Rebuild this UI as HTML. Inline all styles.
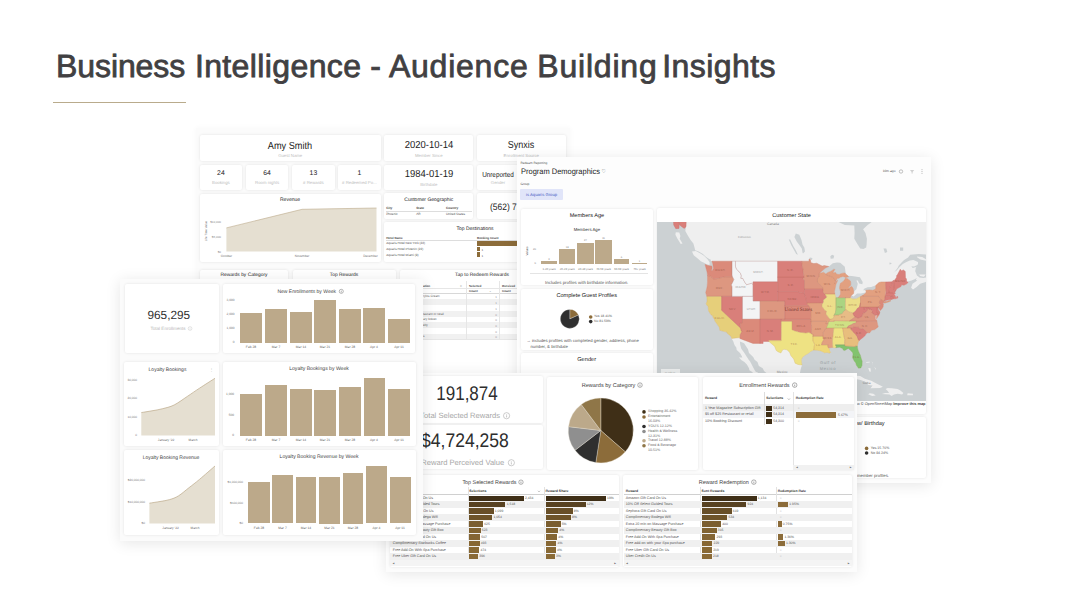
<!DOCTYPE html><html><head><meta charset="utf-8"><title>Business Intelligence - Audience Building Insights</title><style>
*{box-sizing:border-box;margin:0;padding:0}
html,body{width:1073px;height:605px;overflow:hidden;background:#fff}
body{font-family:"Liberation Sans",sans-serif;position:relative;color:#333;text-rendering:geometricPrecision;-webkit-font-smoothing:antialiased}
.abs{position:absolute}
.panel{position:absolute;background:#fbfbfb;box-shadow:0 2px 14px rgba(0,0,0,.10);overflow:hidden}
.card{position:absolute;background:#fff;border-radius:2px;box-shadow:0 0 3px rgba(0,0,0,.10)}
.t{position:absolute;white-space:nowrap;line-height:1;transform:translate(-50%,-50%) scaleX(var(--sx,1))}
.tl{position:absolute;white-space:nowrap;line-height:1;transform-origin:0 50%;transform:translate(0,-50%) scaleX(var(--sx,1))}
.tr{position:absolute;white-space:nowrap;line-height:1;transform-origin:100% 50%;transform:translate(-100%,-50%) scaleX(var(--sx,1))}
svg{position:absolute;left:0;top:0;overflow:visible}
.ttl{position:absolute;top:47.3px;font-size:32px;color:#414042;white-space:nowrap;line-height:38px;-webkit-text-stroke:.8px #414042}
</style></head><body>
<div class="ttl" style="left:56.00px;letter-spacing:-0.086px">Business</div>
<div class="ttl" style="left:194.90px;letter-spacing:0.382px">Intelligence</div>
<div class="ttl" style="left:370.30px;letter-spacing:0.000px">-</div>
<div class="ttl" style="left:388.90px;letter-spacing:0.771px">Audience</div>
<div class="ttl" style="left:537.30px;letter-spacing:0.800px">Building</div>
<div class="ttl" style="left:662.20px;letter-spacing:0.429px">Insights</div>
<div class="abs" style="left:53px;top:101.5px;width:133px;height:1px;background:#b9ab8c"></div>
<div class="panel" style="left:196px;top:128px;width:374px;height:253px;z-index:10;box-shadow:0 0 6px rgba(0,0,0,.035);background:#fbfbfb">
<div class="card" style="left:3.9px;top:7.4px;width:181.0px;height:25.6px;"></div>
<div class="t" style="left:94.2px;top:19.35px;font-size:10.2px;color:#222;--sx:.9">Amy Smith</div>
<div class="t" style="left:94.2px;top:28.25px;font-size:4.3px;color:#bdbdbd;">Guest Name</div>
<div class="card" style="left:188.1px;top:7.4px;width:88.8px;height:25.6px;"></div>
<div class="t" style="left:232.8px;top:17.55px;font-size:10.2px;color:#222;--sx:.93">2020-10-14</div>
<div class="t" style="left:232.8px;top:28.25px;font-size:4.3px;color:#bdbdbd;">Member Since</div>
<div class="card" style="left:281.1px;top:7.4px;width:88.8px;height:25.6px;"></div>
<div class="t" style="left:325.3px;top:17.55px;font-size:10.2px;color:#222;--sx:.88">Synxis</div>
<div class="t" style="left:325.3px;top:28.25px;font-size:4.3px;color:#bdbdbd;">Enrollment Source</div>
<div class="card" style="left:3.9px;top:37.4px;width:42.1px;height:24.6px;"></div>
<div class="t" style="left:24.9px;top:46.15px;font-size:6.8px;color:#222;">24</div>
<div class="t" style="left:24.9px;top:54.55px;font-size:4.3px;color:#bdbdbd;">Bookings</div>
<div class="card" style="left:49.8px;top:37.4px;width:42.6px;height:24.6px;"></div>
<div class="t" style="left:71.1px;top:46.15px;font-size:6.8px;color:#222;">64</div>
<div class="t" style="left:71.1px;top:54.55px;font-size:4.3px;color:#bdbdbd;">Room nights</div>
<div class="card" style="left:96.2px;top:37.4px;width:42.4px;height:24.6px;"></div>
<div class="t" style="left:117.4px;top:46.15px;font-size:6.8px;color:#222;">13</div>
<div class="t" style="left:117.4px;top:54.55px;font-size:4.3px;color:#bdbdbd;"># Rewards</div>
<div class="card" style="left:142.0px;top:37.4px;width:42.9px;height:24.6px;"></div>
<div class="t" style="left:163.4px;top:46.15px;font-size:6.8px;color:#222;">1</div>
<div class="t" style="left:163.4px;top:54.55px;font-size:4.3px;color:#bdbdbd;"># Redeemed Po...</div>
<div class="card" style="left:188.1px;top:36.7px;width:88.8px;height:25.3px;"></div>
<div class="t" style="left:232.8px;top:46.55px;font-size:10.2px;color:#222;--sx:.93">1984-01-19</div>
<div class="t" style="left:232.8px;top:57.05px;font-size:4.3px;color:#bdbdbd;">Birthdate</div>
<div class="card" style="left:281.1px;top:36.7px;width:88.8px;height:25.3px;"></div>
<div class="t" style="left:302.0px;top:46.55px;font-size:7.2px;color:#222;--sx:.88">Unreported</div>
<div class="t" style="left:302.0px;top:54.75px;font-size:4.3px;color:#bdbdbd;">Gender</div>
<div class="card" style="left:3.9px;top:66.0px;width:181.0px;height:67.9px;"></div>
<div class="t" style="left:94.0px;top:72.15px;font-size:5px;color:#222;">Revenue</div>
<svg width="374" height="253" viewBox="196 128 374 253"><path d="M226.4,227.9 L302.1,209.3 L376.5,208 L376.5,251.5 L226.4,251.5 Z" fill="#e5dfd1"/><path d="M226.4,227.9 L302.1,209.3 L376.5,208" fill="none" stroke="#bca98a" stroke-width=".6"/></svg>
<div class="tr" style="left:25.0px;top:94.35px;font-size:3px;color:#888;">$10,000</div>
<div class="tr" style="left:25.0px;top:109.35px;font-size:3px;color:#888;">$5,000</div>
<div class="tr" style="left:25.0px;top:124.25px;font-size:3px;color:#888;">$0</div>
<div class="t" style="left:30.4px;top:128.75px;font-size:3.2px;color:#777;">October</div>
<div class="t" style="left:106.0px;top:128.75px;font-size:3.2px;color:#777;">November</div>
<div class="t" style="left:174.5px;top:128.75px;font-size:3.2px;color:#777;">December</div>
<div class="t" style="left:9.5px;top:103px;font-size:3px;color:#777;transform:translate(-50%,-50%) rotate(-90deg)">Life Time Value</div>
<div class="card" style="left:188.1px;top:65.2px;width:88.8px;height:26.0px;"></div>
<div class="t" style="left:232.8px;top:72.35px;font-size:5px;color:#222;">Customer Geographic</div>
<div class="tl" style="left:190.2px;top:80.75px;font-size:3.2px;color:#444;font-weight:bold">City</div>
<div class="tl" style="left:220.2px;top:80.75px;font-size:3.2px;color:#444;font-weight:bold">State</div>
<div class="tl" style="left:250.0px;top:80.75px;font-size:3.2px;color:#444;font-weight:bold">Country</div>
<div class="tl" style="left:190.2px;top:86.75px;font-size:3.2px;color:#555;">Phoenix</div>
<div class="tl" style="left:220.2px;top:86.75px;font-size:3.2px;color:#555;">AR</div>
<div class="tl" style="left:250.0px;top:86.75px;font-size:3.2px;color:#555;">United States</div>
<div class="abs" style="left:189.50px;top:83.00px;width:86.00px;height:0.30px;background:#ddd"></div>
<div class="card" style="left:281.1px;top:65.2px;width:88.8px;height:26.0px;"></div>
<div class="tl" style="left:293.8px;top:78.75px;font-size:9.4px;color:#222;--sx:.9">(562) 712-1234</div>
<div class="card" style="left:188.1px;top:94.4px;width:181.8px;height:39.5px;"></div>
<div class="t" style="left:279.0px;top:101.05px;font-size:5px;color:#222;">Top Destinations</div>
<div class="tl" style="left:190.2px;top:109.75px;font-size:3px;color:#444;font-weight:bold">Hotel Name</div>
<div class="tl" style="left:281.1px;top:109.75px;font-size:3px;color:#444;font-weight:bold">Booking Count</div>
<div class="abs" style="left:189.50px;top:111.60px;width:178.50px;height:0.30px;background:#ddd"></div>
<div class="tl" style="left:190.2px;top:116.05px;font-size:3.1px;color:#555;">Aquaris Hotel New York (22)</div>
<div class="tl" style="left:190.2px;top:121.95px;font-size:3.1px;color:#555;">Aquaris Hotel Phoenix (22)</div>
<div class="tl" style="left:190.2px;top:127.85px;font-size:3.1px;color:#555;">Aquaris Hotel Miami (9)</div>
<div class="abs" style="left:281.10px;top:112.80px;width:87.90px;height:5.00px;background:#8c6c3a"></div>
<div class="abs" style="left:281.10px;top:118.60px;width:3.40px;height:4.60px;background:#8c6c3a"></div>
<div class="abs" style="left:281.10px;top:124.40px;width:3.40px;height:4.60px;background:#8c6c3a"></div>
<div class="tl" style="left:285.5px;top:121.75px;font-size:3px;color:#555;">1</div>
<div class="tl" style="left:285.5px;top:127.55px;font-size:3px;color:#555;">1</div>
<div class="card" style="left:3.9px;top:141.5px;width:88.1px;height:130.5px;"></div>
<div class="t" style="left:48.0px;top:147.55px;font-size:4.9px;color:#222;">Rewards by Category</div>
<div class="card" style="left:96.5px;top:141.5px;width:103.5px;height:130.5px;"></div>
<div class="t" style="left:148.0px;top:147.55px;font-size:4.9px;color:#222;">Top Rewards</div>
<div class="card" style="left:204.0px;top:141.5px;width:166.0px;height:130.5px;"></div>
<div class="t" style="left:286.0px;top:147.55px;font-size:4.9px;color:#222;">Tap to Redeem Rewards</div>
<div class="abs" style="left:205.00px;top:171.42px;width:116.00px;height:5.72px;background:#f1f1f1"></div>
<div class="abs" style="left:205.00px;top:182.86px;width:116.00px;height:5.72px;background:#f1f1f1"></div>
<div class="abs" style="left:205.00px;top:194.30px;width:116.00px;height:5.72px;background:#f1f1f1"></div>
<div class="abs" style="left:205.00px;top:205.74px;width:116.00px;height:5.72px;background:#f1f1f1"></div>
<div class="abs" style="left:205.00px;top:159.90px;width:116.00px;height:0.30px;background:#e6e6e6"></div>
<div class="abs" style="left:205.00px;top:165.40px;width:116.00px;height:0.40px;background:#d8d8d8"></div>
<div class="abs" style="left:205.00px;top:211.40px;width:116.00px;height:0.40px;background:#e6e6e6"></div>
<div class="abs" style="left:270.40px;top:153.00px;width:0.30px;height:58.60px;background:#e6e6e6"></div>
<div class="abs" style="left:303.30px;top:153.00px;width:0.30px;height:58.60px;background:#e6e6e6"></div>
<div class="tl" style="left:273.0px;top:157.55px;font-size:3px;color:#444;font-weight:bold">Selected</div>
<div class="tl" style="left:306.0px;top:157.55px;font-size:3px;color:#444;font-weight:bold">Received</div>
<div class="tl" style="left:273.0px;top:163.45px;font-size:3px;color:#444;font-weight:bold">Count</div>
<div class="tl" style="left:293.0px;top:163.45px;font-size:3px;color:#666;">&#8964;</div>
<div class="tl" style="left:306.0px;top:163.45px;font-size:3px;color:#444;font-weight:bold">Count</div>
<div class="tl" style="left:227.0px;top:157.55px;font-size:3px;color:#444;font-weight:bold">ation</div>
<div class="tl" style="left:264.0px;top:157.55px;font-size:3px;color:#777;">&gt;</div>
<div class="tl" style="left:227.0px;top:169.35px;font-size:3.1px;color:#666;">rylos Cream</div>
<div class="tl" style="left:227.0px;top:175.07px;font-size:3.1px;color:#666;"></div>
<div class="tl" style="left:227.0px;top:180.79px;font-size:3.1px;color:#666;"></div>
<div class="tl" style="left:227.0px;top:186.51px;font-size:3.1px;color:#666;">taurant or retail</div>
<div class="tl" style="left:227.0px;top:192.23px;font-size:3.1px;color:#666;">ary bokeo</div>
<div class="tl" style="left:227.0px;top:197.95px;font-size:3.1px;color:#666;">elty</div>
<div class="tl" style="left:227.0px;top:203.67px;font-size:3.1px;color:#666;"></div>
<div class="tl" style="left:227.0px;top:209.39px;font-size:3.1px;color:#666;">s</div>
<div class="tr" style="left:301.0px;top:169.35px;font-size:3px;color:#999;">1</div>
<div class="tr" style="left:301.0px;top:175.07px;font-size:3px;color:#999;">1</div>
<div class="tr" style="left:301.0px;top:180.79px;font-size:3px;color:#999;">1</div>
<div class="tr" style="left:301.0px;top:186.51px;font-size:3px;color:#999;">0</div>
<div class="tr" style="left:301.0px;top:192.23px;font-size:3px;color:#999;">0</div>
<div class="tr" style="left:301.0px;top:197.95px;font-size:3px;color:#999;">0</div>
<div class="tr" style="left:301.0px;top:203.67px;font-size:3px;color:#999;">0</div>
<div class="tr" style="left:301.0px;top:209.39px;font-size:3px;color:#999;">0</div>
</div>
<div class="panel" style="left:517px;top:156.5px;width:414px;height:326px;z-index:20;background:#fdfdfd">
<div class="tl" style="left:3.5px;top:7.45px;font-size:3.2px;color:#555;">Redeam Reporting</div>
<div class="tl" style="left:3.5px;top:15.75px;font-size:8px;color:#222;--sx:.935">Program Demographics</div>
<div class="tl" style="left:84.5px;top:15.95px;font-size:5px;color:#555;">&#9825;</div>
<div class="tl" style="left:3.5px;top:28.95px;font-size:3.2px;color:#555;">Group</div>
<div class="abs" style="left:3.3999999999999773px;top:32.80000000000001px;width:42.5px;height:10.6px;background:#e1e5f9;border-radius:1px"></div>
<div class="t" style="left:24.6px;top:38.85px;font-size:4.2px;color:#4a5cc4;">is Aquaris Group</div>
<div class="tr" style="left:378.5px;top:15.25px;font-size:3.3px;color:#555;">10m ago</div>
<svg width="414" height="326" viewBox="517 156.5 414 326"><circle cx="901" cy="171" r="1.7" fill="none" stroke="#777" stroke-width=".45"/><path d="M910,169.5 h4.2 l-1.6,2 v1.6 h-1 v-1.6 z" fill="#d0d0d0"/><circle cx="922" cy="169.3" r=".45" fill="#777"/><circle cx="922" cy="171" r=".45" fill="#777"/><circle cx="922" cy="172.7" r=".45" fill="#777"/></svg>
<div class="card" style="left:3.7px;top:52.2px;width:132.8px;height:76.6px;"></div>
<div class="t" style="left:69.9px;top:60.25px;font-size:5.6px;color:#222;">Members Age</div>
<div class="t" style="left:69.9px;top:73.55px;font-size:4.3px;color:#333;">Members Age</div>
<div class="abs" style="left:24.20px;top:104.50px;width:15.60px;height:2.90px;background:#bca98a"></div>
<div class="abs" style="left:42.20px;top:92.60px;width:15.90px;height:14.80px;background:#bca98a"></div>
<div class="abs" style="left:60.40px;top:86.00px;width:16.20px;height:21.40px;background:#bca98a"></div>
<div class="abs" style="left:78.40px;top:83.60px;width:16.40px;height:23.80px;background:#bca98a"></div>
<div class="abs" style="left:96.70px;top:102.40px;width:15.80px;height:5.00px;background:#bca98a"></div>
<div class="abs" style="left:114.70px;top:106.80px;width:15.80px;height:0.60px;background:#bca98a"></div>
<div class="t" style="left:32.0px;top:112.15px;font-size:2.8px;color:#777;">1-20 years</div>
<div class="t" style="left:32.0px;top:103.25px;font-size:2.6px;color:#888;">3</div>
<div class="t" style="left:50.2px;top:112.15px;font-size:2.8px;color:#777;">20-29 years</div>
<div class="t" style="left:50.2px;top:91.35px;font-size:2.6px;color:#888;">18</div>
<div class="t" style="left:68.5px;top:112.15px;font-size:2.8px;color:#777;">30-39 years</div>
<div class="t" style="left:68.5px;top:84.75px;font-size:2.6px;color:#888;">27</div>
<div class="t" style="left:86.6px;top:112.15px;font-size:2.8px;color:#777;">40-59 years</div>
<div class="t" style="left:86.6px;top:82.35px;font-size:2.6px;color:#888;">31</div>
<div class="t" style="left:104.6px;top:112.15px;font-size:2.8px;color:#777;">60-69 years</div>
<div class="t" style="left:104.6px;top:101.15px;font-size:2.6px;color:#888;">6</div>
<div class="t" style="left:122.6px;top:112.15px;font-size:2.8px;color:#777;">70+ years</div>
<div class="t" style="left:122.6px;top:105.55px;font-size:2.6px;color:#888;">1</div>
<div class="tr" style="left:19.0px;top:93.25px;font-size:2.7px;color:#777;">20</div>
<div class="tr" style="left:19.0px;top:107.75px;font-size:2.7px;color:#777;">0</div>
<div class="t" style="left:10px;top:94.5px;font-size:3px;color:#555;transform:translate(-50%,-50%) rotate(-90deg)">Values</div>
<div class="abs" style="left:13.00px;top:116.30px;width:118.00px;height:0.30px;background:#e4e4e4"></div>
<div class="t" style="left:69.7px;top:126.45px;font-size:4.4px;color:#555;">Includes profiles with birthdate information.</div>
<div class="card" style="left:3.7px;top:132.8px;width:132.8px;height:60.3px;"></div>
<div class="t" style="left:69.7px;top:140.45px;font-size:5.6px;color:#222;">Complete Guest Profiles</div>
<svg width="414" height="326" viewBox="517 156.5 414 326"><path d="M569.80,318.40 L569.80,308.90 A9.5,9.5 0 0 1 578.50,314.58 Z" fill="#8c6c3a" stroke="#fff" stroke-width="0.25"/><path d="M569.80,318.40 L578.50,314.58 A9.5,9.5 0 1 1 569.80,308.90 Z" fill="#2f2f2f" stroke="#fff" stroke-width="0.25"/><circle cx="590.7" cy="316.5" r="1.8" fill="#8c6c3a"/><circle cx="590.7" cy="321.1" r="1.8" fill="#2f2f2f"/></svg>
<div class="tl" style="left:77.0px;top:160.75px;font-size:3.4px;color:#555;">Yes 18.41%</div>
<div class="tl" style="left:77.0px;top:165.35px;font-size:3.4px;color:#555;">No 81.59%</div>
<div class="tl" style="left:9.4px;top:184.55px;font-size:4.3px;color:#555;">&rarr; includes profiles with completed gender, address, phone</div>
<div class="tl" style="left:13.4px;top:190.65px;font-size:4.3px;color:#555;">number, & birthdate</div>
<div class="card" style="left:3.7px;top:196.5px;width:132.8px;height:67.0px;"></div>
<div class="t" style="left:69.7px;top:204.45px;font-size:5.7px;color:#222;">Gender</div>
<div class="card" style="left:139.8px;top:51.7px;width:269.5px;height:205.4px;"></div>
<div class="t" style="left:274.5px;top:60.25px;font-size:5.55px;color:#222;">Customer State</div>
<div class="abs" style="left:140px;top:65.69999999999999px;width:269.3px;height:178.8px;overflow:hidden;background:#ccd1d3"><svg width="269.3" height="178.8" viewBox="657 222.2 269.3 178.8" style="position:absolute;left:0;top:0"><rect x="650" y="215" width="290" height="200" fill="#ccd1d3"/><path d="M686.4,211.2 L686.2,221.4 L686.0,227.0 L685.3,231.3 L688.1,236.1 L690.6,240.2 L693.4,243.6 L694.5,247.6 L695.2,250.4 L698.7,251.6 L702.9,254.3 L706.1,257.1 L709.2,259.2 L710.6,259.8 L711.0,261.4 L711.9,261.4 L712.8,264.1 L713.5,268.8 L712.1,270.9 L711.3,271.4 L712.2,268.3 L711.7,266.2 L709.2,265.9 L705.0,264.6 L707.1,272.4 L707.5,275.8 L707.5,282.1 L707.1,287.0 L705.7,292.8 L706.8,296.6 L707.1,301.3 L706.1,304.1 L708.2,306.9 L708.5,311.0 L711.0,315.0 L712.8,315.9 L712.8,317.2 L714.5,319.7 L714.9,321.2 L719.3,327.5 L719.8,330.5 L724.4,331.8 L726.8,332.3 L727.2,333.5 L731.1,336.6 L731.7,338.6 L733.3,341.7 L734.6,345.4 L736.3,347.6 L736.7,350.1 L740.0,353.1 L742.0,356.7 L742.3,357.7 L738.9,357.7 L741.6,360.5 L744.1,362.0 L746.9,364.6 L749.0,368.5 L749.4,370.4 L751.5,371.6 L755.7,375.4 L756.9,377.1 L758.7,375.8 L757.8,372.8 L755.7,372.0 L754.3,369.7 L752.2,365.8 L750.1,361.8 L748.7,359.9 L746.9,357.1 L744.4,353.1 L741.3,349.0 L740.2,345.0 L739.9,341.7 L744.1,343.5 L746.2,346.6 L748.0,349.4 L749.0,353.1 L753.2,357.3 L754.6,359.9 L757.5,362.2 L758.9,366.2 L762.7,368.5 L764.1,371.2 L769.3,375.8 L771.9,378.9 L773.3,382.3 L772.4,385.0 L773.5,385.5 L771.9,386.5 L774.4,390.4 L776.8,391.5 L779.6,394.3 L784.2,395.6 L788.4,398.4 L792.3,399.6 L797.2,401.7 L802.5,403.1 L806.0,404.2 L811.3,402.4 L816.6,404.6 L820.1,408.6 L827.2,413.7 L831.0,413.7 L831.0,403.5 L833.1,400.9 L833.5,397.2 L834.9,394.3 L836.0,389.8 L838.6,383.6 L837.4,382.1 L833.5,381.9 L828.2,383.1 L825.7,384.2 L825.2,388.5 L822.6,392.1 L820.8,393.0 L817.7,393.2 L811.7,394.8 L808.9,392.8 L805.7,390.9 L804.3,388.3 L801.5,384.2 L799.7,379.5 L799.9,373.5 L800.8,368.9 L802.0,365.1 L801.5,362.6 L801.3,359.9 L802.5,357.5 L805.0,355.5 L808.9,353.3 L810.6,351.7 L813.6,350.3 L817.3,350.5 L820.1,350.9 L822.6,351.9 L824.3,352.9 L827.2,352.7 L829.3,353.3 L830.1,353.1 L830.7,352.5 L829.6,351.1 L829.3,348.8 L828.6,348.2 L832.8,347.6 L834.2,348.0 L835.9,347.9 L839.5,347.5 L842.5,348.6 L843.5,350.4 L844.8,350.7 L846.9,349.4 L848.3,348.6 L850.4,350.5 L852.5,352.7 L853.0,354.3 L852.5,357.5 L852.9,358.7 L854.4,361.5 L855.8,363.2 L856.4,365.4 L858.5,368.4 L860.9,368.1 L862.0,365.8 L862.2,361.5 L861.1,358.3 L860.4,355.5 L859.2,353.1 L857.8,349.4 L857.3,346.2 L857.8,344.1 L858.3,342.1 L859.4,340.7 L860.8,339.4 L862.7,337.9 L865.2,335.8 L865.9,334.3 L867.5,333.0 L869.6,333.1 L871.9,330.3 L874.6,329.9 L878.2,327.1 L876.9,321.4 L876.5,319.9 L876.6,319.0 L877.8,317.2 L879.1,314.9 L879.8,313.0 L879.6,311.4 L878.5,310.3 L878.0,308.5 L878.5,306.9 L878.2,308.0 L879.3,309.2 L880.3,310.8 L882.0,308.9 L883.1,307.1 L883.5,303.9 L882.6,303.6 L883.5,302.7 L883.8,301.3 L883.8,301.8 L884.7,301.3 L887.3,300.2 L891.0,299.8 L892.6,299.5 L893.6,299.0 L895.3,298.9 L897.7,298.3 L897.7,296.9 L896.9,296.3 L897.2,297.6 L895.8,297.6 L895.1,295.7 L894.0,295.0 L895.4,293.5 L894.7,292.4 L895.1,291.5 L895.4,291.4 L896.9,288.9 L898.3,288.2 L900.7,287.0 L901.8,285.0 L903.9,285.5 L906.4,284.3 L908.2,282.6 L907.8,281.6 L911.6,280.8 L915.2,279.1 L916.6,278.3 L915.9,280.1 L917.3,280.6 L912.5,284.0 L911.1,288.0 L913.0,289.7 L916.9,287.0 L920.1,284.0 L925.7,282.1 L929.2,280.6 L932.8,277.5 L933.5,276.0 L931.3,271.9 L929.2,274.0 L927.5,277.5 L926.1,277.8 L923.3,278.3 L919.4,277.8 L918.7,277.0 L916.9,275.8 L915.5,271.9 L915.2,271.4 L915.9,267.8 L916.9,267.0 L912.7,268.3 L911.6,266.7 L910.2,266.4 L914.1,266.7 L917.3,265.1 L918.0,264.1 L918.0,262.2 L913.4,260.1 L909.9,260.6 L906.4,262.2 L902.8,264.3 L899.3,267.5 L896.9,270.4 L893.3,273.0 L895.1,271.4 L897.9,267.8 L898.6,265.9 L902.5,261.7 L904.1,260.3 L908.1,257.6 L910.2,254.9 L918.7,254.3 L925.7,254.6 L932.8,254.9 L943.3,248.2 L943.3,207.9 L880.0,207.9 L873.6,217.0 L871.2,222.7 L867.6,225.2 L863.1,229.5 L865.5,233.1 L866.9,239.0 L866.6,244.8 L866.2,247.6 L863.4,249.3 L860.2,248.8 L857.1,243.6 L854.3,239.0 L854.6,233.1 L854.3,225.8 L844.8,225.2 L835.6,220.8 L819.1,214.4 L816.6,207.9 L686.4,207.9Z M692.0,251.8 L693.7,255.4 L698.3,259.2 L700.8,261.4 L704.0,263.0 L707.5,264.9 L709.6,264.9 L709.6,262.5 L707.5,259.5 L704.0,256.0 L700.4,253.8 L695.9,251.3Z M675.8,232.5 L679.3,232.8 L680.4,236.1 L679.7,239.0 L682.5,243.6 L680.7,244.2 L677.2,238.4 L675.4,234.9Z M844.9,381.0 L847.2,378.5 L851.1,376.8 L855.3,375.9 L860.2,376.2 L864.8,378.9 L871.2,381.0 L876.4,383.6 L882.9,387.0 L880.0,388.3 L870.5,388.5 L872.6,385.7 L868.3,385.1 L865.9,382.1 L860.6,380.2 L855.7,379.1 L852.5,378.1 L848.6,379.8Z M881.9,394.1 L885.6,394.5 L889.5,394.7 L891.6,396.3 L894.0,394.7 L897.6,393.9 L902.1,394.7 L903.4,393.2 L900.4,390.6 L897.6,389.3 L891.6,388.5 L887.7,388.1 L885.6,389.1 L887.7,391.3 L889.1,393.2 L885.2,393.2Z M907.2,395.4 L912.9,395.4 L913.0,393.9 L907.6,393.5Z M868.2,394.5 L872.2,396.1 L875.7,395.8 L873.3,393.9 L869.7,393.5Z M868.3,368.1 L870.5,368.5 L870.8,372.0 L869.4,371.6Z M866.2,362.2 L869.7,362.0 L869.7,362.8 L866.2,363.0Z M871.5,361.5 L872.9,363.0 L872.2,365.4 L872.9,363.8Z M873.6,367.3 L875.9,368.5 L875.9,370.1 L875.2,368.5Z M917.3,273.7 L919.4,274.7 L922.5,274.7 L925.7,274.7 L924.0,277.0 L920.1,276.3 L918.7,274.2Z M916.9,256.8 L922.2,257.3 L926.8,259.8 L926.4,261.1 L920.4,259.8 L917.3,257.6Z M934.9,268.8 L936.3,264.1 L939.1,259.8 L942.3,252.1 L947.2,247.1 L957.4,250.4 L957.4,271.9Z" fill="#efefef"/><path d="M819.8,273.2 L820.8,272.2 L825.4,268.3 L828.9,266.7 L832.8,263.5 L837.0,262.7 L840.2,263.0 L844.8,267.0 L845.5,271.9 L846.2,274.6 L844.8,273.1 L841.6,273.6 L839.1,274.7 L836.3,274.2 L835.6,272.7 L832.6,273.0 L833.5,271.9 L834.9,269.6 L833.5,269.6 L831.0,271.4 L827.9,272.7 L825.7,274.1 L823.6,272.4 L820.1,273.5Z M835.9,298.0 L834.9,294.2 L834.5,291.8 L835.3,288.0 L836.0,284.5 L837.7,280.6 L836.7,281.1 L834.2,284.3 L834.5,284.0 L835.6,281.6 L837.7,278.3 L838.8,278.6 L840.2,277.5 L843.0,276.6 L845.8,277.7 L845.6,278.1 L844.4,280.3 L842.6,282.1 L840.4,283.5 L839.7,286.5 L839.5,288.5 L840.5,291.8 L840.4,294.7 L838.3,297.8 L837.0,298.5Z M845.6,278.1 L845.8,277.7 L848.6,277.0 L847.9,276.0 L851.8,276.3 L856.7,277.0 L859.9,277.5 L862.7,282.1 L862.4,284.5 L859.2,283.8 L857.8,280.8 L856.4,280.8 L857.8,284.0 L856.4,289.4 L853.8,291.8 L853.2,288.9 L852.0,286.8 L850.4,287.2 L848.6,288.7 L848.6,287.5 L850.7,285.5 L850.7,282.6 L850.4,281.1 L847.6,278.9Z M850.2,297.9 L851.4,295.4 L853.6,296.6 L857.1,293.8 L860.9,293.8 L865.7,292.6 L866.2,292.3 L865.7,293.3 L863.2,295.3 L860.5,296.8 L856.4,299.0 L852.9,299.2Z M863.1,290.4 L865.7,290.5 L869.4,290.1 L872.9,290.5 L875.7,289.2 L875.7,286.5 L874.7,286.0 L871.2,287.2 L867.6,287.5 L864.5,288.7Z M803.0,253.8 L805.0,251.8 L804.3,247.6 L802.5,244.8 L801.5,240.2 L799.3,234.9 L795.8,233.7 L794.4,237.2 L796.9,241.9 L799.0,244.8 L801.8,248.8 L802.5,252.7Z M797.9,254.9 L795.8,250.4 L793.4,246.5 L790.2,239.6 L788.8,239.6 L791.3,245.4 L794.4,251.0 L796.2,254.3Z M830.7,259.0 L833.5,258.7 L834.2,256.0 L832.1,254.9 L830.3,256.5Z M809.0,259.4 L810.3,259.8 L812.0,260.3 L812.4,258.2 L809.9,257.6Z M746.5,298.5 L749.0,299.2 L749.7,301.8 L748.3,302.5 L746.7,300.9Z M889.5,262.7 L891.6,263.3 L891.2,264.3 L889.5,264.6Z M883.5,248.8 L886.3,248.8 L887.3,252.1 L884.9,253.2Z M900.0,247.6 L903.2,247.6 L903.2,251.0 L900.0,251.0Z M858.5,360.5 L860.1,360.5 L860.1,362.0 L858.7,362.0Z" fill="#ccd1d3"/><path d="M732.0,261.4 L732.0,274.9 L732.4,277.0 L725.1,277.0 L723.0,277.4 L717.3,278.8 L713.5,279.3 L711.7,277.5 L710.3,276.3 L707.5,275.8 L707.1,272.4 L705.0,264.6 L709.2,265.9 L711.7,266.2 L712.2,268.3 L711.3,271.4 L712.1,270.9 L713.5,268.8 L712.8,264.1 L711.9,261.4Z" fill="#db8a7a" stroke="#db8a7a" stroke-width=".3" stroke-linejoin="round"/><path d="M707.5,275.8 L710.3,276.3 L711.7,277.5 L713.5,279.3 L717.3,278.8 L723.0,277.4 L725.1,277.0 L732.4,277.0 L733.9,279.6 L732.6,282.6 L731.4,285.0 L732.0,287.0 L732.0,296.6 L706.8,296.6 L705.7,292.8 L707.1,287.0 L707.5,282.1 L707.5,275.8Z" fill="#dd9780" stroke="#dd9780" stroke-width=".3" stroke-linejoin="round"/><path d="M706.8,296.6 L721.6,296.6 L721.6,310.5 L740.5,328.2 L740.6,328.6 L741.3,331.2 L742.1,331.4 L740.2,335.0 L740.1,337.8 L731.7,338.6 L731.1,336.6 L727.2,333.5 L726.8,332.3 L724.4,331.8 L719.8,330.5 L719.3,327.5 L714.9,321.2 L714.5,319.7 L712.8,317.2 L712.8,315.9 L711.0,315.0 L708.5,311.0 L708.2,306.9 L706.1,304.1 L707.1,301.3 L706.8,296.6Z" fill="#e6cf7a" stroke="#e6cf7a" stroke-width=".3" stroke-linejoin="round"/><path d="M721.6,296.6 L742.5,296.6 L742.5,323.0 L740.2,323.4 L740.5,328.2 L721.6,310.5Z" fill="#d97f7a" stroke="#d97f7a" stroke-width=".3" stroke-linejoin="round"/><path d="M732.0,261.4 L735.5,261.4 L735.5,266.7 L736.7,269.6 L738.8,271.4 L740.6,273.8 L741.4,276.0 L740.9,278.5 L742.9,278.6 L743.6,280.3 L745.2,283.0 L746.7,285.0 L748.7,284.2 L751.6,283.5 L753.1,284.6 L753.1,296.6 L732.0,296.6 L732.0,287.0 L731.4,285.0 L732.6,282.6 L733.9,279.6 L732.4,277.0 L732.0,274.9 L732.0,261.4Z" fill="#f3f4f5" stroke="#b88a88" stroke-width=".35" stroke-linejoin="round"/><path d="M735.5,261.4 L777.7,261.4 L777.7,282.1 L753.1,282.1 L753.1,284.6 L751.6,283.5 L748.7,284.2 L746.7,285.0 L745.2,283.0 L743.6,280.3 L742.9,278.6 L740.9,278.5 L741.4,276.0 L740.6,273.8 L738.8,271.4 L736.7,269.6 L735.5,266.7 L735.5,261.4Z" fill="#f3f4f5" stroke="#b88a88" stroke-width=".35" stroke-linejoin="round"/><path d="M753.1,282.1 L777.7,282.1 L777.7,301.3 L753.1,301.3Z" fill="#d97f7a" stroke="#d97f7a" stroke-width=".3" stroke-linejoin="round"/><path d="M742.5,296.6 L753.1,296.6 L753.1,301.3 L760.1,301.3 L760.1,319.5 L742.5,319.5Z" fill="#f3f4f5" stroke="#b88a88" stroke-width=".35" stroke-linejoin="round"/><path d="M760.1,301.3 L784.7,301.3 L784.7,319.5 L760.1,319.5Z" fill="#dd9780" stroke="#dd9780" stroke-width=".3" stroke-linejoin="round"/><path d="M742.5,319.5 L760.1,319.5 L760.1,343.6 L753.0,343.6 L739.8,338.7 L740.1,337.8 L740.2,335.0 L742.1,331.4 L741.3,331.2 L740.6,328.6 L740.5,328.2 L740.2,323.4 L742.5,323.0Z" fill="#db8a7a" stroke="#db8a7a" stroke-width=".3" stroke-linejoin="round"/><path d="M760.1,319.5 L781.4,319.5 L781.4,321.6 L781.3,340.8 L768.7,340.8 L769.0,341.7 L763.1,341.7 L763.1,343.6 L760.1,343.6Z" fill="#d97f7a" stroke="#d97f7a" stroke-width=".3" stroke-linejoin="round"/><path d="M777.7,261.4 L801.7,261.4 L802.2,265.7 L803.0,269.3 L803.2,272.4 L804.1,277.3 L777.7,277.3Z" fill="#d97f7a" stroke="#d97f7a" stroke-width=".3" stroke-linejoin="round"/><path d="M777.7,277.3 L804.1,277.3 L803.0,279.1 L804.5,280.6 L804.5,289.4 L804.3,294.2 L802.5,293.0 L799.3,292.8 L797.2,291.8 L777.7,291.8Z" fill="#d97f7a" stroke="#d97f7a" stroke-width=".3" stroke-linejoin="round"/><path d="M777.7,291.8 L797.2,291.8 L799.3,292.8 L802.5,293.0 L804.3,294.2 L805.7,298.0 L806.4,300.4 L806.7,303.2 L808.5,306.0 L784.7,306.0 L784.7,301.3 L777.7,301.3Z" fill="#d97f7a" stroke="#d97f7a" stroke-width=".3" stroke-linejoin="round"/><path d="M784.7,306.0 L808.5,306.0 L809.9,306.9 L811.0,310.1 L810.9,319.5 L784.7,319.5Z" fill="#db8a7a" stroke="#db8a7a" stroke-width=".3" stroke-linejoin="round"/><path d="M781.4,319.5 L810.9,319.5 L810.9,321.6 L811.6,326.4 L811.4,334.0 L808.9,332.6 L806.0,333.3 L802.9,332.9 L800.1,332.6 L796.9,331.8 L794.8,331.2 L792.0,330.0 L792.0,321.6 L781.4,321.6Z" fill="#db8a7a" stroke="#db8a7a" stroke-width=".3" stroke-linejoin="round"/><path d="M781.3,340.8 L781.4,321.6 L792.0,321.6 L792.0,330.0 L794.8,331.2 L796.9,331.8 L800.1,332.6 L802.9,332.9 L806.0,333.3 L808.9,332.6 L811.4,334.0 L812.9,334.3 L812.9,336.6 L812.9,340.9 L813.8,342.9 L814.7,344.5 L814.1,347.0 L814.0,349.0 L813.6,350.3 L810.6,351.7 L808.9,353.3 L805.0,355.5 L802.5,357.5 L801.3,359.9 L801.5,362.6 L802.0,365.1 L800.1,365.0 L797.9,364.6 L795.1,363.4 L793.7,359.1 L790.9,355.9 L789.7,352.7 L787.0,350.0 L783.9,349.5 L782.5,350.3 L780.9,353.2 L777.9,351.9 L776.1,350.5 L774.7,346.6 L770.8,343.3 L769.0,341.7 L768.7,340.8Z" fill="#eee283" stroke="#eee283" stroke-width=".3" stroke-linejoin="round"/><path d="M801.7,261.4 L809.0,261.4 L809.0,259.4 L810.3,259.8 L811.0,262.9 L813.8,263.8 L816.8,263.4 L820.1,265.1 L822.2,266.3 L824.3,265.7 L828.9,266.7 L825.4,268.3 L820.8,272.2 L819.8,273.2 L819.1,273.7 L819.1,276.7 L817.5,279.1 L817.5,282.6 L820.3,285.3 L822.8,287.7 L822.9,289.4 L804.5,289.4 L804.5,280.6 L803.0,279.1 L804.1,277.3 L803.2,272.4 L803.0,269.3 L802.2,265.7 L801.7,261.4Z" fill="#dd9780" stroke="#dd9780" stroke-width=".3" stroke-linejoin="round"/><path d="M804.5,289.4 L822.9,289.4 L823.3,292.8 L824.9,294.2 L826.6,296.6 L826.5,297.8 L823.3,300.4 L823.6,302.3 L822.2,304.2 L821.1,303.1 L806.8,303.3 L806.7,303.2 L806.4,300.4 L805.7,298.0 L804.3,294.2Z" fill="#d97f7a" stroke="#d97f7a" stroke-width=".3" stroke-linejoin="round"/><path d="M806.8,303.3 L821.1,303.1 L822.2,304.2 L821.9,306.4 L824.7,310.5 L826.5,311.4 L825.9,314.1 L828.9,318.1 L830.1,319.5 L828.9,321.6 L828.2,323.8 L825.9,323.8 L826.6,321.6 L810.9,321.6 L810.9,319.5 L811.0,310.1 L809.9,306.9 L808.5,306.0 L806.7,303.2Z" fill="#e2a080" stroke="#e2a080" stroke-width=".3" stroke-linejoin="round"/><path d="M810.9,321.6 L826.6,321.6 L825.9,323.8 L828.2,323.8 L826.8,327.7 L826.1,328.2 L825.0,329.9 L823.3,332.9 L823.1,336.6 L812.9,336.6 L812.9,334.3 L811.4,334.0 L811.6,326.4Z" fill="#e2a080" stroke="#e2a080" stroke-width=".3" stroke-linejoin="round"/><path d="M812.9,336.6 L823.1,336.6 L822.9,338.7 L824.0,339.6 L822.2,342.5 L821.5,345.0 L828.1,345.0 L827.7,346.4 L828.6,348.2 L829.3,348.8 L829.6,351.1 L830.7,352.5 L830.1,353.1 L829.3,353.3 L827.2,352.7 L824.3,352.9 L822.6,351.9 L820.1,350.9 L817.3,350.5 L813.6,350.3 L814.0,349.0 L814.1,347.0 L814.7,344.5 L813.8,342.9 L812.9,340.9 L812.9,336.6Z" fill="#eed778" stroke="#eed778" stroke-width=".3" stroke-linejoin="round"/><path d="M823.1,336.6 L823.3,332.9 L825.0,329.9 L826.1,328.2 L833.5,328.2 L833.8,328.6 L832.5,341.2 L832.8,347.6 L828.6,348.2 L827.7,346.4 L828.1,345.0 L821.5,345.0 L822.2,342.5 L824.0,339.6 L822.9,338.7 L823.1,336.6Z" fill="#e2a080" stroke="#e2a080" stroke-width=".3" stroke-linejoin="round"/><path d="M833.5,328.2 L842.6,328.2 L844.1,337.2 L844.8,339.6 L844.6,342.7 L844.8,345.0 L844.8,345.0 L835.6,345.0 L835.6,345.6 L836.3,346.4 L835.9,347.9 L834.2,348.0 L832.8,347.6 L832.5,341.2 L833.8,328.6 L833.5,328.2Z" fill="#eee283" stroke="#eee283" stroke-width=".3" stroke-linejoin="round"/><path d="M826.1,328.2 L826.8,327.7 L828.2,323.8 L828.9,321.6 L834.0,321.6 L834.0,320.9 L849.4,321.2 L856.4,321.3 L856.4,322.3 L855.3,323.4 L853.2,323.8 L851.4,324.9 L849.3,325.8 L848.1,326.4 L847.1,328.2 L842.6,328.2 L833.5,328.2Z" fill="#cfe184" stroke="#cfe184" stroke-width=".3" stroke-linejoin="round"/><path d="M828.9,321.6 L830.1,319.5 L832.4,319.0 L834.0,317.2 L833.8,315.5 L836.0,315.2 L838.4,315.2 L840.2,314.3 L842.1,313.8 L843.3,311.7 L845.4,310.1 L846.5,310.1 L849.3,312.1 L853.2,313.1 L853.2,314.3 L854.3,316.4 L855.4,317.1 L849.4,321.2 L834.0,320.9 L834.0,321.6 L828.9,321.6Z" fill="#e7bc86" stroke="#e7bc86" stroke-width=".3" stroke-linejoin="round"/><path d="M822.2,304.2 L823.6,302.3 L823.3,300.4 L826.5,297.8 L826.6,296.6 L824.9,294.2 L834.9,294.2 L835.9,298.0 L835.9,308.9 L835.4,312.8 L834.2,315.0 L833.8,315.5 L834.0,317.2 L832.4,319.0 L830.1,319.5 L828.9,318.1 L825.9,314.1 L826.5,311.4 L824.7,310.5 L821.9,306.4 L822.2,304.2Z" fill="#ecde8a" stroke="#ecde8a" stroke-width=".3" stroke-linejoin="round"/><path d="M835.9,298.0 L837.0,297.8 L838.3,297.8 L845.5,297.8 L845.4,310.1 L843.3,311.7 L842.1,313.8 L840.2,314.3 L838.4,315.2 L836.0,315.2 L833.8,315.5 L834.2,315.0 L835.4,312.8 L835.9,308.9 L835.9,298.0Z" fill="#aad482" stroke="#aad482" stroke-width=".3" stroke-linejoin="round"/><path d="M845.5,298.0 L850.2,297.9 L852.9,299.2 L856.4,299.0 L860.5,296.8 L860.5,303.0 L860.1,304.1 L859.4,307.3 L857.3,308.7 L856.2,310.5 L854.6,312.3 L853.2,313.1 L849.3,312.1 L846.5,310.1 L845.4,310.1Z" fill="#ecde8a" stroke="#ecde8a" stroke-width=".3" stroke-linejoin="round"/><path d="M838.3,297.8 L840.4,294.7 L840.5,291.8 L839.5,288.5 L839.7,286.5 L840.4,283.5 L842.6,282.1 L844.4,280.3 L845.6,278.1 L847.6,278.9 L850.4,281.1 L850.7,282.6 L850.7,285.5 L848.6,287.5 L848.6,288.7 L850.4,287.2 L852.0,286.8 L853.2,288.9 L853.8,291.8 L853.6,293.8 L852.1,295.0 L851.4,295.4 L850.2,297.9 L845.5,298.0 L845.5,297.8Z M825.7,274.1 L827.9,272.7 L831.0,271.4 L833.5,269.6 L834.9,269.6 L833.5,271.9 L832.6,273.0 L835.6,272.7 L836.3,274.2 L839.1,274.7 L841.6,273.6 L844.8,273.1 L846.2,274.6 L847.9,276.0 L848.6,277.0 L845.8,277.7 L843.0,276.6 L840.2,277.5 L838.8,278.6 L837.7,278.3 L835.6,281.6 L834.9,280.3 L833.8,278.0 L831.4,276.9 L826.7,275.3 L825.7,274.1Z" fill="#e2a080" stroke="#e2a080" stroke-width=".3" stroke-linejoin="round"/><path d="M819.1,273.7 L820.1,273.5 L823.6,272.4 L825.7,274.1 L826.7,275.3 L831.4,276.9 L833.8,278.0 L834.9,280.3 L835.6,281.6 L834.5,284.0 L834.2,284.3 L836.7,281.1 L837.7,280.6 L836.0,284.5 L835.3,288.0 L834.5,291.8 L834.9,294.2 L824.9,294.2 L823.3,292.8 L822.9,289.4 L822.8,287.7 L820.3,285.3 L817.5,282.6 L817.5,279.1 L819.1,276.7 L819.1,273.7Z" fill="#e2a080" stroke="#e2a080" stroke-width=".3" stroke-linejoin="round"/><path d="M835.9,347.9 L836.3,346.4 L835.6,345.6 L835.6,345.0 L844.8,345.0 L845.2,346.2 L854.6,346.7 L855.1,347.5 L855.3,346.0 L857.3,346.2 L857.8,349.4 L859.2,353.1 L860.4,355.5 L861.1,358.3 L862.2,361.5 L862.0,365.8 L860.9,368.1 L858.5,368.4 L856.4,365.4 L855.8,363.2 L854.4,361.5 L852.9,358.7 L852.5,357.5 L853.0,354.3 L852.5,352.7 L850.4,350.5 L848.3,348.6 L846.9,349.4 L844.8,350.7 L843.5,350.4 L842.5,348.6 L839.5,347.5 L835.9,347.9Z" fill="#82c36e" stroke="#82c36e" stroke-width=".3" stroke-linejoin="round"/><path d="M842.6,328.2 L847.1,328.2 L851.4,328.2 L850.6,329.4 L852.1,330.4 L853.4,332.4 L855.5,334.5 L857.1,336.6 L858.5,340.4 L859.4,340.7 L858.3,342.1 L857.8,344.1 L857.3,346.2 L855.3,346.0 L855.1,347.5 L854.6,346.7 L845.2,346.2 L844.8,345.0 L844.6,342.7 L844.8,339.6 L844.1,337.2 L842.6,328.2Z" fill="#e8be7d" stroke="#e8be7d" stroke-width=".3" stroke-linejoin="round"/><path d="M851.4,328.2 L853.9,327.3 L858.7,327.5 L859.1,327.7 L859.5,328.9 L863.5,329.0 L867.5,333.0 L865.9,334.3 L865.2,335.8 L862.7,337.9 L860.8,339.4 L859.4,340.7 L858.5,340.4 L857.1,336.6 L855.5,334.5 L853.4,332.4 L852.1,330.4 L850.6,329.4 L851.4,328.2Z" fill="#d97f7a" stroke="#d97f7a" stroke-width=".3" stroke-linejoin="round"/><path d="M847.1,328.2 L848.1,326.4 L849.3,325.8 L851.4,324.9 L853.2,323.8 L855.3,323.4 L856.4,322.3 L856.4,321.3 L876.9,321.4 L878.2,327.1 L874.6,329.9 L871.9,330.3 L869.6,333.1 L867.5,333.0 L863.5,329.0 L859.5,328.9 L859.1,327.7 L858.7,327.5 L853.9,327.3 L851.4,328.2 L847.1,328.2Z" fill="#dd9780" stroke="#dd9780" stroke-width=".3" stroke-linejoin="round"/><path d="M849.4,321.2 L855.4,317.1 L858.0,318.4 L861.3,317.2 L862.5,315.0 L863.6,312.5 L864.8,313.1 L866.3,311.6 L868.2,308.7 L870.0,309.9 L870.4,309.1 L871.2,310.1 L872.7,311.2 L871.9,313.2 L873.1,313.9 L875.4,315.5 L875.4,317.2 L875.4,319.5 L876.5,319.9 L876.9,321.4 L856.4,321.3Z M876.8,315.2 L876.4,318.1 L876.6,319.0 L877.8,317.2 L879.1,314.9Z" fill="#dd9780" stroke="#dd9780" stroke-width=".3" stroke-linejoin="round"/><path d="M853.2,313.1 L854.6,312.3 L856.2,310.5 L857.3,308.7 L859.4,307.3 L860.1,304.1 L860.5,303.0 L860.5,307.2 L864.2,307.2 L864.2,309.6 L865.6,308.4 L866.8,307.9 L868.0,307.7 L869.4,307.8 L870.4,309.1 L870.0,309.9 L868.2,308.7 L866.3,311.6 L864.8,313.1 L863.6,312.5 L862.5,315.0 L861.3,317.2 L858.0,318.4 L855.4,317.1 L854.3,316.4 L853.2,314.3 L853.2,313.1Z" fill="#d97f7a" stroke="#d97f7a" stroke-width=".3" stroke-linejoin="round"/><path d="M864.2,307.2 L877.2,307.2 L877.2,313.0 L879.8,313.0 L879.1,314.9 L876.8,315.2 L875.4,315.5 L873.1,313.9 L871.9,313.2 L872.7,311.2 L871.2,310.1 L870.4,309.1 L869.4,307.8 L868.0,307.7 L866.8,307.9 L865.6,308.4 L864.2,309.6 L864.2,307.2Z" fill="#d97f7a" stroke="#d97f7a" stroke-width=".3" stroke-linejoin="round"/><path d="M877.2,307.2 L877.8,306.7 L878.5,306.9 L878.0,308.5 L878.5,310.3 L879.6,311.4 L879.8,313.0 L877.2,313.0Z" fill="#d97f7a" stroke="#d97f7a" stroke-width=".3" stroke-linejoin="round"/><path d="M860.5,307.2 L860.5,296.8 L863.2,295.3 L863.2,296.6 L878.7,296.6 L879.8,298.5 L881.0,299.6 L879.6,301.6 L879.3,303.2 L880.8,305.0 L879.5,306.4 L878.5,306.9 L877.8,306.7 L877.2,307.2Z" fill="#e2a080" stroke="#e2a080" stroke-width=".3" stroke-linejoin="round"/><path d="M881.0,299.6 L879.6,301.6 L879.3,303.2 L880.8,305.0 L879.5,306.4 L878.5,306.9 L878.2,308.0 L879.3,309.2 L880.3,310.8 L882.0,308.9 L883.1,307.1 L883.5,303.9 L882.6,303.6 L883.5,302.7 L883.8,301.3Z" fill="#db8a7a" stroke="#db8a7a" stroke-width=".3" stroke-linejoin="round"/><path d="M863.2,295.3 L863.2,296.6 L878.7,296.6 L879.8,298.5 L881.0,299.6 L883.8,301.8 L884.7,301.3 L884.4,300.9 L885.2,296.4 L886.1,289.2 L885.9,288.9 L885.6,284.5 L885.8,282.1 L881.0,282.1 L878.9,282.8 L875.4,286.0 L875.7,286.5 L875.7,289.2 L872.9,290.5 L869.4,290.1 L865.7,290.5 L866.2,292.3 L865.7,293.3 L863.2,295.3Z M883.5,303.2 L885.2,303.2 L889.1,302.0 L891.0,301.0 L889.5,300.6 L886.3,301.7 L884.4,302.0Z" fill="#e2a080" stroke="#e2a080" stroke-width=".3" stroke-linejoin="round"/><path d="M884.4,300.9 L885.2,296.4 L891.2,296.5 L891.0,299.8 L887.3,300.2 L884.7,301.3Z" fill="#d97f7a" stroke="#d97f7a" stroke-width=".3" stroke-linejoin="round"/><path d="M891.2,296.5 L892.7,296.5 L892.9,297.6 L893.6,299.0 L892.6,299.5 L891.0,299.8Z" fill="#d97f7a" stroke="#d97f7a" stroke-width=".3" stroke-linejoin="round"/><path d="M885.2,296.4 L886.1,293.0 L888.9,293.1 L893.0,293.3 L894.7,292.4 L895.4,293.5 L894.0,295.0 L895.1,295.7 L895.8,297.6 L897.2,297.6 L896.9,296.3 L897.7,296.9 L897.7,298.3 L895.3,298.9 L893.6,299.0 L892.9,297.6 L892.7,296.5 L891.2,296.5Z" fill="#d97f7a" stroke="#d97f7a" stroke-width=".3" stroke-linejoin="round"/><path d="M885.8,282.1 L892.3,282.0 L892.1,284.0 L890.3,286.5 L889.5,288.9 L888.9,291.8 L888.9,293.1 L886.1,293.0 L886.1,289.2 L885.9,288.9 L885.6,284.5 L885.8,282.1Z" fill="#d97f7a" stroke="#d97f7a" stroke-width=".3" stroke-linejoin="round"/><path d="M892.3,282.0 L892.6,281.1 L893.8,280.6 L893.9,284.0 L894.1,289.9 L894.7,290.7 L895.1,291.5 L894.7,292.4 L893.0,293.3 L888.9,293.1 L888.9,291.8 L889.5,288.9 L890.3,286.5 L892.1,284.0Z" fill="#d97f7a" stroke="#d97f7a" stroke-width=".3" stroke-linejoin="round"/><path d="M893.8,280.6 L894.6,280.8 L894.7,280.1 L896.1,278.3 L896.7,277.3 L896.5,276.0 L897.4,275.0 L900.3,269.5 L901.4,271.0 L903.5,270.1 L905.3,271.6 L905.5,278.0 L906.5,279.1 L906.5,281.3 L908.2,282.6 L906.4,284.3 L903.9,285.5 L901.8,285.0 L900.7,287.0 L898.3,288.2 L896.9,288.9 L895.4,291.4 L895.1,291.5 L894.7,290.7 L894.1,289.9 L893.9,284.0 L893.8,280.6Z" fill="#d97f7a" stroke="#d97f7a" stroke-width=".3" stroke-linejoin="round"/><path d="M686.4,218.9 L686.2,221.4 L686.0,227.0 L684.2,228.6 L681.8,227.0 L679.7,225.2 L679.0,218.9Z M678.6,218.9 L679.3,223.9 L679.0,228.6 L675.8,228.9 L673.7,225.2 L673.3,218.9Z" fill="#d97f7a" stroke="#d97f7a" stroke-width=".3" stroke-linejoin="round"/><path d="M732.0,261.4 L732.0,274.9 L732.4,277.0 L725.1,277.0 L723.0,277.4 L717.3,278.8 L713.5,279.3 L711.7,277.5 L710.3,276.3 L707.5,275.8 L707.1,272.4 L705.0,264.6 L709.2,265.9 L711.7,266.2 L712.2,268.3 L711.3,271.4 L712.1,270.9 L713.5,268.8 L712.8,264.1 L711.9,261.4Z" fill="none" stroke="rgba(150,70,60,.30)" stroke-width=".3" stroke-linejoin="round"/><path d="M707.5,275.8 L710.3,276.3 L711.7,277.5 L713.5,279.3 L717.3,278.8 L723.0,277.4 L725.1,277.0 L732.4,277.0 L733.9,279.6 L732.6,282.6 L731.4,285.0 L732.0,287.0 L732.0,296.6 L706.8,296.6 L705.7,292.8 L707.1,287.0 L707.5,282.1 L707.5,275.8Z" fill="none" stroke="rgba(150,70,60,.30)" stroke-width=".3" stroke-linejoin="round"/><path d="M706.8,296.6 L721.6,296.6 L721.6,310.5 L740.5,328.2 L740.6,328.6 L741.3,331.2 L742.1,331.4 L740.2,335.0 L740.1,337.8 L731.7,338.6 L731.1,336.6 L727.2,333.5 L726.8,332.3 L724.4,331.8 L719.8,330.5 L719.3,327.5 L714.9,321.2 L714.5,319.7 L712.8,317.2 L712.8,315.9 L711.0,315.0 L708.5,311.0 L708.2,306.9 L706.1,304.1 L707.1,301.3 L706.8,296.6Z" fill="none" stroke="rgba(150,70,60,.30)" stroke-width=".3" stroke-linejoin="round"/><path d="M721.6,296.6 L742.5,296.6 L742.5,323.0 L740.2,323.4 L740.5,328.2 L721.6,310.5Z" fill="none" stroke="rgba(150,70,60,.30)" stroke-width=".3" stroke-linejoin="round"/><path d="M753.1,282.1 L777.7,282.1 L777.7,301.3 L753.1,301.3Z" fill="none" stroke="rgba(150,70,60,.30)" stroke-width=".3" stroke-linejoin="round"/><path d="M760.1,301.3 L784.7,301.3 L784.7,319.5 L760.1,319.5Z" fill="none" stroke="rgba(150,70,60,.30)" stroke-width=".3" stroke-linejoin="round"/><path d="M742.5,319.5 L760.1,319.5 L760.1,343.6 L753.0,343.6 L739.8,338.7 L740.1,337.8 L740.2,335.0 L742.1,331.4 L741.3,331.2 L740.6,328.6 L740.5,328.2 L740.2,323.4 L742.5,323.0Z" fill="none" stroke="rgba(150,70,60,.30)" stroke-width=".3" stroke-linejoin="round"/><path d="M760.1,319.5 L781.4,319.5 L781.4,321.6 L781.3,340.8 L768.7,340.8 L769.0,341.7 L763.1,341.7 L763.1,343.6 L760.1,343.6Z" fill="none" stroke="rgba(150,70,60,.30)" stroke-width=".3" stroke-linejoin="round"/><path d="M777.7,261.4 L801.7,261.4 L802.2,265.7 L803.0,269.3 L803.2,272.4 L804.1,277.3 L777.7,277.3Z" fill="none" stroke="rgba(150,70,60,.30)" stroke-width=".3" stroke-linejoin="round"/><path d="M777.7,277.3 L804.1,277.3 L803.0,279.1 L804.5,280.6 L804.5,289.4 L804.3,294.2 L802.5,293.0 L799.3,292.8 L797.2,291.8 L777.7,291.8Z" fill="none" stroke="rgba(150,70,60,.30)" stroke-width=".3" stroke-linejoin="round"/><path d="M777.7,291.8 L797.2,291.8 L799.3,292.8 L802.5,293.0 L804.3,294.2 L805.7,298.0 L806.4,300.4 L806.7,303.2 L808.5,306.0 L784.7,306.0 L784.7,301.3 L777.7,301.3Z" fill="none" stroke="rgba(150,70,60,.30)" stroke-width=".3" stroke-linejoin="round"/><path d="M784.7,306.0 L808.5,306.0 L809.9,306.9 L811.0,310.1 L810.9,319.5 L784.7,319.5Z" fill="none" stroke="rgba(150,70,60,.30)" stroke-width=".3" stroke-linejoin="round"/><path d="M781.4,319.5 L810.9,319.5 L810.9,321.6 L811.6,326.4 L811.4,334.0 L808.9,332.6 L806.0,333.3 L802.9,332.9 L800.1,332.6 L796.9,331.8 L794.8,331.2 L792.0,330.0 L792.0,321.6 L781.4,321.6Z" fill="none" stroke="rgba(150,70,60,.30)" stroke-width=".3" stroke-linejoin="round"/><path d="M781.3,340.8 L781.4,321.6 L792.0,321.6 L792.0,330.0 L794.8,331.2 L796.9,331.8 L800.1,332.6 L802.9,332.9 L806.0,333.3 L808.9,332.6 L811.4,334.0 L812.9,334.3 L812.9,336.6 L812.9,340.9 L813.8,342.9 L814.7,344.5 L814.1,347.0 L814.0,349.0 L813.6,350.3 L810.6,351.7 L808.9,353.3 L805.0,355.5 L802.5,357.5 L801.3,359.9 L801.5,362.6 L802.0,365.1 L800.1,365.0 L797.9,364.6 L795.1,363.4 L793.7,359.1 L790.9,355.9 L789.7,352.7 L787.0,350.0 L783.9,349.5 L782.5,350.3 L780.9,353.2 L777.9,351.9 L776.1,350.5 L774.7,346.6 L770.8,343.3 L769.0,341.7 L768.7,340.8Z" fill="none" stroke="rgba(150,70,60,.30)" stroke-width=".3" stroke-linejoin="round"/><path d="M801.7,261.4 L809.0,261.4 L809.0,259.4 L810.3,259.8 L811.0,262.9 L813.8,263.8 L816.8,263.4 L820.1,265.1 L822.2,266.3 L824.3,265.7 L828.9,266.7 L825.4,268.3 L820.8,272.2 L819.8,273.2 L819.1,273.7 L819.1,276.7 L817.5,279.1 L817.5,282.6 L820.3,285.3 L822.8,287.7 L822.9,289.4 L804.5,289.4 L804.5,280.6 L803.0,279.1 L804.1,277.3 L803.2,272.4 L803.0,269.3 L802.2,265.7 L801.7,261.4Z" fill="none" stroke="rgba(150,70,60,.30)" stroke-width=".3" stroke-linejoin="round"/><path d="M804.5,289.4 L822.9,289.4 L823.3,292.8 L824.9,294.2 L826.6,296.6 L826.5,297.8 L823.3,300.4 L823.6,302.3 L822.2,304.2 L821.1,303.1 L806.8,303.3 L806.7,303.2 L806.4,300.4 L805.7,298.0 L804.3,294.2Z" fill="none" stroke="rgba(150,70,60,.30)" stroke-width=".3" stroke-linejoin="round"/><path d="M806.8,303.3 L821.1,303.1 L822.2,304.2 L821.9,306.4 L824.7,310.5 L826.5,311.4 L825.9,314.1 L828.9,318.1 L830.1,319.5 L828.9,321.6 L828.2,323.8 L825.9,323.8 L826.6,321.6 L810.9,321.6 L810.9,319.5 L811.0,310.1 L809.9,306.9 L808.5,306.0 L806.7,303.2Z" fill="none" stroke="rgba(150,70,60,.30)" stroke-width=".3" stroke-linejoin="round"/><path d="M810.9,321.6 L826.6,321.6 L825.9,323.8 L828.2,323.8 L826.8,327.7 L826.1,328.2 L825.0,329.9 L823.3,332.9 L823.1,336.6 L812.9,336.6 L812.9,334.3 L811.4,334.0 L811.6,326.4Z" fill="none" stroke="rgba(150,70,60,.30)" stroke-width=".3" stroke-linejoin="round"/><path d="M812.9,336.6 L823.1,336.6 L822.9,338.7 L824.0,339.6 L822.2,342.5 L821.5,345.0 L828.1,345.0 L827.7,346.4 L828.6,348.2 L829.3,348.8 L829.6,351.1 L830.7,352.5 L830.1,353.1 L829.3,353.3 L827.2,352.7 L824.3,352.9 L822.6,351.9 L820.1,350.9 L817.3,350.5 L813.6,350.3 L814.0,349.0 L814.1,347.0 L814.7,344.5 L813.8,342.9 L812.9,340.9 L812.9,336.6Z" fill="none" stroke="rgba(150,70,60,.30)" stroke-width=".3" stroke-linejoin="round"/><path d="M823.1,336.6 L823.3,332.9 L825.0,329.9 L826.1,328.2 L833.5,328.2 L833.8,328.6 L832.5,341.2 L832.8,347.6 L828.6,348.2 L827.7,346.4 L828.1,345.0 L821.5,345.0 L822.2,342.5 L824.0,339.6 L822.9,338.7 L823.1,336.6Z" fill="none" stroke="rgba(150,70,60,.30)" stroke-width=".3" stroke-linejoin="round"/><path d="M833.5,328.2 L842.6,328.2 L844.1,337.2 L844.8,339.6 L844.6,342.7 L844.8,345.0 L844.8,345.0 L835.6,345.0 L835.6,345.6 L836.3,346.4 L835.9,347.9 L834.2,348.0 L832.8,347.6 L832.5,341.2 L833.8,328.6 L833.5,328.2Z" fill="none" stroke="rgba(150,70,60,.30)" stroke-width=".3" stroke-linejoin="round"/><path d="M826.1,328.2 L826.8,327.7 L828.2,323.8 L828.9,321.6 L834.0,321.6 L834.0,320.9 L849.4,321.2 L856.4,321.3 L856.4,322.3 L855.3,323.4 L853.2,323.8 L851.4,324.9 L849.3,325.8 L848.1,326.4 L847.1,328.2 L842.6,328.2 L833.5,328.2Z" fill="none" stroke="rgba(150,70,60,.30)" stroke-width=".3" stroke-linejoin="round"/><path d="M828.9,321.6 L830.1,319.5 L832.4,319.0 L834.0,317.2 L833.8,315.5 L836.0,315.2 L838.4,315.2 L840.2,314.3 L842.1,313.8 L843.3,311.7 L845.4,310.1 L846.5,310.1 L849.3,312.1 L853.2,313.1 L853.2,314.3 L854.3,316.4 L855.4,317.1 L849.4,321.2 L834.0,320.9 L834.0,321.6 L828.9,321.6Z" fill="none" stroke="rgba(150,70,60,.30)" stroke-width=".3" stroke-linejoin="round"/><path d="M822.2,304.2 L823.6,302.3 L823.3,300.4 L826.5,297.8 L826.6,296.6 L824.9,294.2 L834.9,294.2 L835.9,298.0 L835.9,308.9 L835.4,312.8 L834.2,315.0 L833.8,315.5 L834.0,317.2 L832.4,319.0 L830.1,319.5 L828.9,318.1 L825.9,314.1 L826.5,311.4 L824.7,310.5 L821.9,306.4 L822.2,304.2Z" fill="none" stroke="rgba(150,70,60,.30)" stroke-width=".3" stroke-linejoin="round"/><path d="M835.9,298.0 L837.0,297.8 L838.3,297.8 L845.5,297.8 L845.4,310.1 L843.3,311.7 L842.1,313.8 L840.2,314.3 L838.4,315.2 L836.0,315.2 L833.8,315.5 L834.2,315.0 L835.4,312.8 L835.9,308.9 L835.9,298.0Z" fill="none" stroke="rgba(150,70,60,.30)" stroke-width=".3" stroke-linejoin="round"/><path d="M845.5,298.0 L850.2,297.9 L852.9,299.2 L856.4,299.0 L860.5,296.8 L860.5,303.0 L860.1,304.1 L859.4,307.3 L857.3,308.7 L856.2,310.5 L854.6,312.3 L853.2,313.1 L849.3,312.1 L846.5,310.1 L845.4,310.1Z" fill="none" stroke="rgba(150,70,60,.30)" stroke-width=".3" stroke-linejoin="round"/><path d="M838.3,297.8 L840.4,294.7 L840.5,291.8 L839.5,288.5 L839.7,286.5 L840.4,283.5 L842.6,282.1 L844.4,280.3 L845.6,278.1 L847.6,278.9 L850.4,281.1 L850.7,282.6 L850.7,285.5 L848.6,287.5 L848.6,288.7 L850.4,287.2 L852.0,286.8 L853.2,288.9 L853.8,291.8 L853.6,293.8 L852.1,295.0 L851.4,295.4 L850.2,297.9 L845.5,298.0 L845.5,297.8Z M825.7,274.1 L827.9,272.7 L831.0,271.4 L833.5,269.6 L834.9,269.6 L833.5,271.9 L832.6,273.0 L835.6,272.7 L836.3,274.2 L839.1,274.7 L841.6,273.6 L844.8,273.1 L846.2,274.6 L847.9,276.0 L848.6,277.0 L845.8,277.7 L843.0,276.6 L840.2,277.5 L838.8,278.6 L837.7,278.3 L835.6,281.6 L834.9,280.3 L833.8,278.0 L831.4,276.9 L826.7,275.3 L825.7,274.1Z" fill="none" stroke="rgba(150,70,60,.30)" stroke-width=".3" stroke-linejoin="round"/><path d="M819.1,273.7 L820.1,273.5 L823.6,272.4 L825.7,274.1 L826.7,275.3 L831.4,276.9 L833.8,278.0 L834.9,280.3 L835.6,281.6 L834.5,284.0 L834.2,284.3 L836.7,281.1 L837.7,280.6 L836.0,284.5 L835.3,288.0 L834.5,291.8 L834.9,294.2 L824.9,294.2 L823.3,292.8 L822.9,289.4 L822.8,287.7 L820.3,285.3 L817.5,282.6 L817.5,279.1 L819.1,276.7 L819.1,273.7Z" fill="none" stroke="rgba(150,70,60,.30)" stroke-width=".3" stroke-linejoin="round"/><path d="M835.9,347.9 L836.3,346.4 L835.6,345.6 L835.6,345.0 L844.8,345.0 L845.2,346.2 L854.6,346.7 L855.1,347.5 L855.3,346.0 L857.3,346.2 L857.8,349.4 L859.2,353.1 L860.4,355.5 L861.1,358.3 L862.2,361.5 L862.0,365.8 L860.9,368.1 L858.5,368.4 L856.4,365.4 L855.8,363.2 L854.4,361.5 L852.9,358.7 L852.5,357.5 L853.0,354.3 L852.5,352.7 L850.4,350.5 L848.3,348.6 L846.9,349.4 L844.8,350.7 L843.5,350.4 L842.5,348.6 L839.5,347.5 L835.9,347.9Z" fill="none" stroke="rgba(150,70,60,.30)" stroke-width=".3" stroke-linejoin="round"/><path d="M842.6,328.2 L847.1,328.2 L851.4,328.2 L850.6,329.4 L852.1,330.4 L853.4,332.4 L855.5,334.5 L857.1,336.6 L858.5,340.4 L859.4,340.7 L858.3,342.1 L857.8,344.1 L857.3,346.2 L855.3,346.0 L855.1,347.5 L854.6,346.7 L845.2,346.2 L844.8,345.0 L844.6,342.7 L844.8,339.6 L844.1,337.2 L842.6,328.2Z" fill="none" stroke="rgba(150,70,60,.30)" stroke-width=".3" stroke-linejoin="round"/><path d="M851.4,328.2 L853.9,327.3 L858.7,327.5 L859.1,327.7 L859.5,328.9 L863.5,329.0 L867.5,333.0 L865.9,334.3 L865.2,335.8 L862.7,337.9 L860.8,339.4 L859.4,340.7 L858.5,340.4 L857.1,336.6 L855.5,334.5 L853.4,332.4 L852.1,330.4 L850.6,329.4 L851.4,328.2Z" fill="none" stroke="rgba(150,70,60,.30)" stroke-width=".3" stroke-linejoin="round"/><path d="M847.1,328.2 L848.1,326.4 L849.3,325.8 L851.4,324.9 L853.2,323.8 L855.3,323.4 L856.4,322.3 L856.4,321.3 L876.9,321.4 L878.2,327.1 L874.6,329.9 L871.9,330.3 L869.6,333.1 L867.5,333.0 L863.5,329.0 L859.5,328.9 L859.1,327.7 L858.7,327.5 L853.9,327.3 L851.4,328.2 L847.1,328.2Z" fill="none" stroke="rgba(150,70,60,.30)" stroke-width=".3" stroke-linejoin="round"/><path d="M849.4,321.2 L855.4,317.1 L858.0,318.4 L861.3,317.2 L862.5,315.0 L863.6,312.5 L864.8,313.1 L866.3,311.6 L868.2,308.7 L870.0,309.9 L870.4,309.1 L871.2,310.1 L872.7,311.2 L871.9,313.2 L873.1,313.9 L875.4,315.5 L875.4,317.2 L875.4,319.5 L876.5,319.9 L876.9,321.4 L856.4,321.3Z M876.8,315.2 L876.4,318.1 L876.6,319.0 L877.8,317.2 L879.1,314.9Z" fill="none" stroke="rgba(150,70,60,.30)" stroke-width=".3" stroke-linejoin="round"/><path d="M853.2,313.1 L854.6,312.3 L856.2,310.5 L857.3,308.7 L859.4,307.3 L860.1,304.1 L860.5,303.0 L860.5,307.2 L864.2,307.2 L864.2,309.6 L865.6,308.4 L866.8,307.9 L868.0,307.7 L869.4,307.8 L870.4,309.1 L870.0,309.9 L868.2,308.7 L866.3,311.6 L864.8,313.1 L863.6,312.5 L862.5,315.0 L861.3,317.2 L858.0,318.4 L855.4,317.1 L854.3,316.4 L853.2,314.3 L853.2,313.1Z" fill="none" stroke="rgba(150,70,60,.30)" stroke-width=".3" stroke-linejoin="round"/><path d="M864.2,307.2 L877.2,307.2 L877.2,313.0 L879.8,313.0 L879.1,314.9 L876.8,315.2 L875.4,315.5 L873.1,313.9 L871.9,313.2 L872.7,311.2 L871.2,310.1 L870.4,309.1 L869.4,307.8 L868.0,307.7 L866.8,307.9 L865.6,308.4 L864.2,309.6 L864.2,307.2Z" fill="none" stroke="rgba(150,70,60,.30)" stroke-width=".3" stroke-linejoin="round"/><path d="M877.2,307.2 L877.8,306.7 L878.5,306.9 L878.0,308.5 L878.5,310.3 L879.6,311.4 L879.8,313.0 L877.2,313.0Z" fill="none" stroke="rgba(150,70,60,.30)" stroke-width=".3" stroke-linejoin="round"/><path d="M860.5,307.2 L860.5,296.8 L863.2,295.3 L863.2,296.6 L878.7,296.6 L879.8,298.5 L881.0,299.6 L879.6,301.6 L879.3,303.2 L880.8,305.0 L879.5,306.4 L878.5,306.9 L877.8,306.7 L877.2,307.2Z" fill="none" stroke="rgba(150,70,60,.30)" stroke-width=".3" stroke-linejoin="round"/><path d="M881.0,299.6 L879.6,301.6 L879.3,303.2 L880.8,305.0 L879.5,306.4 L878.5,306.9 L878.2,308.0 L879.3,309.2 L880.3,310.8 L882.0,308.9 L883.1,307.1 L883.5,303.9 L882.6,303.6 L883.5,302.7 L883.8,301.3Z" fill="none" stroke="rgba(150,70,60,.30)" stroke-width=".3" stroke-linejoin="round"/><path d="M863.2,295.3 L863.2,296.6 L878.7,296.6 L879.8,298.5 L881.0,299.6 L883.8,301.8 L884.7,301.3 L884.4,300.9 L885.2,296.4 L886.1,289.2 L885.9,288.9 L885.6,284.5 L885.8,282.1 L881.0,282.1 L878.9,282.8 L875.4,286.0 L875.7,286.5 L875.7,289.2 L872.9,290.5 L869.4,290.1 L865.7,290.5 L866.2,292.3 L865.7,293.3 L863.2,295.3Z M883.5,303.2 L885.2,303.2 L889.1,302.0 L891.0,301.0 L889.5,300.6 L886.3,301.7 L884.4,302.0Z" fill="none" stroke="rgba(150,70,60,.30)" stroke-width=".3" stroke-linejoin="round"/><path d="M884.4,300.9 L885.2,296.4 L891.2,296.5 L891.0,299.8 L887.3,300.2 L884.7,301.3Z" fill="none" stroke="rgba(150,70,60,.30)" stroke-width=".3" stroke-linejoin="round"/><path d="M891.2,296.5 L892.7,296.5 L892.9,297.6 L893.6,299.0 L892.6,299.5 L891.0,299.8Z" fill="none" stroke="rgba(150,70,60,.30)" stroke-width=".3" stroke-linejoin="round"/><path d="M885.2,296.4 L886.1,293.0 L888.9,293.1 L893.0,293.3 L894.7,292.4 L895.4,293.5 L894.0,295.0 L895.1,295.7 L895.8,297.6 L897.2,297.6 L896.9,296.3 L897.7,296.9 L897.7,298.3 L895.3,298.9 L893.6,299.0 L892.9,297.6 L892.7,296.5 L891.2,296.5Z" fill="none" stroke="rgba(150,70,60,.30)" stroke-width=".3" stroke-linejoin="round"/><path d="M885.8,282.1 L892.3,282.0 L892.1,284.0 L890.3,286.5 L889.5,288.9 L888.9,291.8 L888.9,293.1 L886.1,293.0 L886.1,289.2 L885.9,288.9 L885.6,284.5 L885.8,282.1Z" fill="none" stroke="rgba(150,70,60,.30)" stroke-width=".3" stroke-linejoin="round"/><path d="M892.3,282.0 L892.6,281.1 L893.8,280.6 L893.9,284.0 L894.1,289.9 L894.7,290.7 L895.1,291.5 L894.7,292.4 L893.0,293.3 L888.9,293.1 L888.9,291.8 L889.5,288.9 L890.3,286.5 L892.1,284.0Z" fill="none" stroke="rgba(150,70,60,.30)" stroke-width=".3" stroke-linejoin="round"/><path d="M893.8,280.6 L894.6,280.8 L894.7,280.1 L896.1,278.3 L896.7,277.3 L896.5,276.0 L897.4,275.0 L900.3,269.5 L901.4,271.0 L903.5,270.1 L905.3,271.6 L905.5,278.0 L906.5,279.1 L906.5,281.3 L908.2,282.6 L906.4,284.3 L903.9,285.5 L901.8,285.0 L900.7,287.0 L898.3,288.2 L896.9,288.9 L895.4,291.4 L895.1,291.5 L894.7,290.7 L894.1,289.9 L893.9,284.0 L893.8,280.6Z" fill="none" stroke="rgba(150,70,60,.30)" stroke-width=".3" stroke-linejoin="round"/><path d="M686.4,218.9 L686.2,221.4 L686.0,227.0 L684.2,228.6 L681.8,227.0 L679.7,225.2 L679.0,218.9Z M678.6,218.9 L679.3,223.9 L679.0,228.6 L675.8,228.9 L673.7,225.2 L673.3,218.9Z" fill="none" stroke="rgba(150,70,60,.30)" stroke-width=".3" stroke-linejoin="round"/><text x="798.3" y="311.4" font-size="5.2" fill="#7a3a35" text-anchor="middle" font-family="Liberation Serif, serif" >United States</text><text x="772.9" y="224.9" font-size="3.4" fill="#888" text-anchor="middle" font-family="Liberation Sans, sans-serif" >Canada</text><text x="744.4" y="237.8" font-size="2.8" fill="#999" text-anchor="middle" font-family="Liberation Sans, sans-serif" >Edmonton</text><text x="827.9" y="364.2" font-size="4.2" fill="#98a0a2" text-anchor="middle" font-family="Liberation Sans, sans-serif" letter-spacing=".5">Gulf of</text><text x="827.9" y="370.6" font-size="4.2" fill="#98a0a2" text-anchor="middle" font-family="Liberation Sans, sans-serif" letter-spacing=".5">Mexico</text><text x="782.1" y="373.1" font-size="3.4" fill="#888" text-anchor="middle" font-family="Liberation Sans, sans-serif" >Mexico</text><text x="866.6" y="384.2" font-size="3.2" fill="#888" text-anchor="middle" font-family="Liberation Sans, sans-serif" >Cuba</text><text x="720.5" y="271.4" font-size="2.9" fill="rgba(120,55,40,.55)" text-anchor="middle" font-family="Liberation Sans, sans-serif" letter-spacing=".3">WASH.</text><text x="719.8" y="288.9" font-size="2.9" fill="rgba(120,55,40,.55)" text-anchor="middle" font-family="Liberation Sans, sans-serif" letter-spacing=".3">ORE.</text><text x="719.8" y="319.5" font-size="2.9" fill="rgba(120,55,40,.55)" text-anchor="middle" font-family="Liberation Sans, sans-serif" letter-spacing=".3">CALIF.</text><text x="732.8" y="310.1" font-size="2.9" fill="rgba(120,55,40,.55)" text-anchor="middle" font-family="Liberation Sans, sans-serif" letter-spacing=".3">NEV.</text><text x="740.6" y="288.5" font-size="2.9" fill="#a0a0a0" text-anchor="middle" font-family="Liberation Sans, sans-serif" letter-spacing=".3">IDAHO</text><text x="758.5" y="273.0" font-size="2.9" fill="#a0a0a0" text-anchor="middle" font-family="Liberation Sans, sans-serif" letter-spacing=".3">MONT.</text><text x="765.6" y="292.8" font-size="2.9" fill="rgba(120,55,40,.55)" text-anchor="middle" font-family="Liberation Sans, sans-serif" letter-spacing=".3">WYO.</text><text x="751.1" y="310.5" font-size="2.9" fill="#a0a0a0" text-anchor="middle" font-family="Liberation Sans, sans-serif" letter-spacing=".3">UTAH</text><text x="772.6" y="311.9" font-size="2.9" fill="rgba(120,55,40,.55)" text-anchor="middle" font-family="Liberation Sans, sans-serif" letter-spacing=".3">COLO.</text><text x="750.8" y="332.4" font-size="2.9" fill="rgba(120,55,40,.55)" text-anchor="middle" font-family="Liberation Sans, sans-serif" letter-spacing=".3">ARIZ.</text><text x="770.5" y="332.0" font-size="2.9" fill="rgba(120,55,40,.55)" text-anchor="middle" font-family="Liberation Sans, sans-serif" letter-spacing=".3">N.M.</text><text x="790.5" y="270.9" font-size="2.9" fill="rgba(120,55,40,.55)" text-anchor="middle" font-family="Liberation Sans, sans-serif" letter-spacing=".3">N.D.</text><text x="790.9" y="286.0" font-size="2.9" fill="rgba(120,55,40,.55)" text-anchor="middle" font-family="Liberation Sans, sans-serif" letter-spacing=".3">S.D.</text><text x="792.7" y="300.4" font-size="2.9" fill="rgba(120,55,40,.55)" text-anchor="middle" font-family="Liberation Sans, sans-serif" letter-spacing=".3">NEBR.</text><text x="801.5" y="327.3" font-size="2.9" fill="rgba(120,55,40,.55)" text-anchor="middle" font-family="Liberation Sans, sans-serif" letter-spacing=".3">OKLA.</text><text x="794.4" y="345.0" font-size="2.9" fill="rgba(120,55,40,.55)" text-anchor="middle" font-family="Liberation Sans, sans-serif" letter-spacing=".3">TEX.</text><text x="811.3" y="277.0" font-size="2.9" fill="rgba(120,55,40,.55)" text-anchor="middle" font-family="Liberation Sans, sans-serif" letter-spacing=".3">MINN.</text><text x="814.8" y="298.0" font-size="2.9" fill="rgba(120,55,40,.55)" text-anchor="middle" font-family="Liberation Sans, sans-serif" letter-spacing=".3">IOWA</text><text x="818.4" y="314.6" font-size="2.9" fill="rgba(120,55,40,.55)" text-anchor="middle" font-family="Liberation Sans, sans-serif" letter-spacing=".3">MO.</text><text x="818.7" y="330.3" font-size="2.9" fill="rgba(120,55,40,.55)" text-anchor="middle" font-family="Liberation Sans, sans-serif" letter-spacing=".3">ARK.</text><text x="818.7" y="346.6" font-size="2.9" fill="rgba(120,55,40,.55)" text-anchor="middle" font-family="Liberation Sans, sans-serif" letter-spacing=".3">LA.</text><text x="827.5" y="285.5" font-size="2.9" fill="rgba(120,55,40,.55)" text-anchor="middle" font-family="Liberation Sans, sans-serif" letter-spacing=".3">WIS.</text><text x="830.0" y="306.9" font-size="2.9" fill="rgba(120,55,40,.55)" text-anchor="middle" font-family="Liberation Sans, sans-serif" letter-spacing=".3">ILL.</text><text x="840.5" y="307.8" font-size="2.9" fill="rgba(120,55,40,.55)" text-anchor="middle" font-family="Liberation Sans, sans-serif" letter-spacing=".3">IND.</text><text x="852.5" y="306.0" font-size="2.9" fill="rgba(120,55,40,.55)" text-anchor="middle" font-family="Liberation Sans, sans-serif" letter-spacing=".3">OHIO</text><text x="845.8" y="291.4" font-size="2.9" fill="rgba(120,55,40,.55)" text-anchor="middle" font-family="Liberation Sans, sans-serif" letter-spacing=".3">MICH.</text><text x="843.7" y="318.6" font-size="2.9" fill="rgba(120,55,40,.55)" text-anchor="middle" font-family="Liberation Sans, sans-serif" letter-spacing=".3">KY.</text><text x="840.2" y="326.0" font-size="2.9" fill="rgba(120,55,40,.55)" text-anchor="middle" font-family="Liberation Sans, sans-serif" letter-spacing=".3">TENN.</text><text x="828.2" y="339.2" font-size="2.9" fill="rgba(120,55,40,.55)" text-anchor="middle" font-family="Liberation Sans, sans-serif" letter-spacing=".3">MISS.</text><text x="838.4" y="338.7" font-size="2.9" fill="rgba(120,55,40,.55)" text-anchor="middle" font-family="Liberation Sans, sans-serif" letter-spacing=".3">ALA.</text><text x="850.4" y="339.2" font-size="2.9" fill="rgba(120,55,40,.55)" text-anchor="middle" font-family="Liberation Sans, sans-serif" letter-spacing=".3">GA.</text><text x="856.7" y="357.9" font-size="2.9" fill="rgba(120,55,40,.55)" text-anchor="middle" font-family="Liberation Sans, sans-serif" letter-spacing=".3">FLA.</text><text x="859.2" y="334.1" font-size="2.9" fill="rgba(120,55,40,.55)" text-anchor="middle" font-family="Liberation Sans, sans-serif" letter-spacing=".3">S.C.</text><text x="865.2" y="326.9" font-size="2.9" fill="rgba(120,55,40,.55)" text-anchor="middle" font-family="Liberation Sans, sans-serif" letter-spacing=".3">N.C.</text><text x="867.3" y="318.6" font-size="2.9" fill="rgba(120,55,40,.55)" text-anchor="middle" font-family="Liberation Sans, sans-serif" letter-spacing=".3">VA.</text><text x="870.5" y="303.2" font-size="2.9" fill="rgba(120,55,40,.55)" text-anchor="middle" font-family="Liberation Sans, sans-serif" letter-spacing=".3">PA.</text><text x="878.2" y="293.3" font-size="2.9" fill="rgba(120,55,40,.55)" text-anchor="middle" font-family="Liberation Sans, sans-serif" letter-spacing=".3">N.Y.</text><text x="900.4" y="282.1" font-size="2.9" fill="rgba(120,55,40,.55)" text-anchor="middle" font-family="Liberation Sans, sans-serif" letter-spacing=".3">MAINE</text></svg></div>
<div class="abs" style="left:143.50px;top:212.50px;width:19.50px;height:7.00px;background:rgba(255,255,255,.6)"></div>
<div class="t" style="left:153.0px;top:216.55px;font-size:3px;color:#888;">mapbox</div>
<div class="abs" style="left:140.00px;top:244.50px;width:269.30px;height:5.50px;background:rgba(255,255,255,.85)"></div>
<div class="tr" style="left:408.5px;top:247.85px;font-size:3.9px;color:#444;">Leaflet | &copy; Mapbox &copy; OpenStreetMap <b>Improve this map</b></div>
<div class="card" style="left:273.0px;top:260.1px;width:136.3px;height:61.4px;"></div>
<div class="tl" style="left:340.0px;top:268.55px;font-size:5.6px;color:#222;">w/ Birthday</div>
<svg width="414" height="326" viewBox="517 156.5 414 326"><circle cx="866.6" cy="447.9" r="1.8" fill="#8c6c3a"/><circle cx="866.6" cy="452.5" r="1.8" fill="#2f2f2f"/></svg>
<div class="tl" style="left:353.7px;top:292.45px;font-size:3.5px;color:#555;">Yes 15.76%</div>
<div class="tl" style="left:353.7px;top:297.15px;font-size:3.5px;color:#555;">No 84.24%</div>
<div class="tl" style="left:340.0px;top:319.25px;font-size:4.3px;color:#555;">member profiles.</div>
</div>
<div class="panel" style="left:386px;top:372.7px;width:471px;height:199.3px;z-index:30;background:#fcfcfc">
<div class="card" style="left:3.7px;top:3.7px;width:153.1px;height:46.6px;"></div>
<div class="t" style="left:81.2px;top:22.25px;font-size:19.8px;color:#2d2d2d;--sx:.86">191,874</div>
<div class="tr" style="left:124.3px;top:43.25px;font-size:7.6px;color:#a8a8a8;">Total Selected Rewards<svg viewBox="0 0 10 10" style="position:static;display:inline-block;width:.95em;height:.95em;vertical-align:-.14em;margin-left:.4em;overflow:visible"><circle cx="5" cy="5" r="4.3" fill="none" stroke="currentColor" stroke-width=".8"/><path d="M5 4.4V7.4M5 2.6V3.4" stroke="currentColor" stroke-width=".9" fill="none"/></svg></div>
<div class="card" style="left:3.7px;top:52.6px;width:153.1px;height:43.9px;"></div>
<div class="t" style="left:78.8px;top:69.35px;font-size:19.6px;color:#2d2d2d;--sx:.895">$4,724,258</div>
<div class="tr" style="left:128.5px;top:90.25px;font-size:7.6px;color:#a8a8a8;">Reward Perceived Value<svg viewBox="0 0 10 10" style="position:static;display:inline-block;width:.95em;height:.95em;vertical-align:-.14em;margin-left:.4em;overflow:visible"><circle cx="5" cy="5" r="4.3" fill="none" stroke="currentColor" stroke-width=".8"/><path d="M5 4.4V7.4M5 2.6V3.4" stroke="currentColor" stroke-width=".9" fill="none"/></svg></div>
<div class="card" style="left:161.2px;top:4.7px;width:150.6px;height:92.8px;"></div>
<div class="t" style="left:226.3px;top:13.55px;font-size:5.6px;color:#444;">Rewards by Category<svg viewBox="0 0 10 10" style="position:static;display:inline-block;width:.95em;height:.95em;vertical-align:-.14em;margin-left:.4em;overflow:visible"><circle cx="5" cy="5" r="4.3" fill="none" stroke="currentColor" stroke-width=".8"/><path d="M5 4.4V7.4M5 2.6V3.4" stroke="currentColor" stroke-width=".9" fill="none"/></svg></div>
<svg width="471" height="199.3" viewBox="386 372.7 471 199.3"><path d="M600.80,430.20 L600.80,397.70 A32.5,32.5 0 0 1 625.29,451.57 Z" fill="#3f2f17" stroke="#e9e2d4" stroke-width="0.35"/><path d="M600.80,430.20 L625.29,451.57 A32.5,32.5 0 0 1 595.82,462.32 Z" fill="#8c6c3a" stroke="#e9e2d4" stroke-width="0.35"/><path d="M600.80,430.20 L595.82,462.32 A32.5,32.5 0 0 1 575.03,450.01 Z" fill="#2f2f2f" stroke="#e9e2d4" stroke-width="0.35"/><path d="M600.80,430.20 L575.03,450.01 A32.5,32.5 0 0 1 568.53,426.37 Z" fill="#8f8f8f" stroke="#e9e2d4" stroke-width="0.35"/><path d="M600.80,430.20 L568.53,426.37 A32.5,32.5 0 0 1 581.30,404.20 Z" fill="#bca98a" stroke="#e9e2d4" stroke-width="0.35"/><path d="M600.80,430.20 L581.30,404.20 A32.5,32.5 0 0 1 600.80,397.70 Z" fill="#8f7648" stroke="#e9e2d4" stroke-width="0.35"/><circle cx="644" cy="411.6" r="1.8" fill="#3f2f17"/><circle cx="644" cy="416.7" r="1.8" fill="#8c6c3a"/><circle cx="644" cy="426.2" r="1.8" fill="#2f2f2f"/><circle cx="644" cy="431.2" r="1.8" fill="#8f8f8f"/><circle cx="644" cy="440.5" r="1.8" fill="#bca98a"/><circle cx="644" cy="445.4" r="1.8" fill="#8f7648"/></svg>
<div class="tl" style="left:262.0px;top:39.65px;font-size:3.6px;color:#666;">Shopping 36.42%</div>
<div class="tl" style="left:262.0px;top:44.75px;font-size:3.6px;color:#666;">Entertainment</div>
<div class="tl" style="left:262.0px;top:49.45px;font-size:3.6px;color:#666;">16.03%</div>
<div class="tl" style="left:262.0px;top:54.25px;font-size:3.6px;color:#666;">YOU'S 12.12%</div>
<div class="tl" style="left:262.0px;top:59.25px;font-size:3.6px;color:#666;">Health & Wellness</div>
<div class="tl" style="left:262.0px;top:63.85px;font-size:3.6px;color:#666;">12.31%</div>
<div class="tl" style="left:262.0px;top:68.55px;font-size:3.6px;color:#666;">Travel 12.88%</div>
<div class="tl" style="left:262.0px;top:73.45px;font-size:3.6px;color:#666;">Food & Beverage</div>
<div class="tl" style="left:262.0px;top:78.15px;font-size:3.6px;color:#666;">10.51%</div>
<div class="card" style="left:316.6px;top:4.7px;width:151.7px;height:92.8px;"></div>
<div class="t" style="left:382.2px;top:13.55px;font-size:5.6px;color:#444;">Enrollment Rewards<svg viewBox="0 0 10 10" style="position:static;display:inline-block;width:.95em;height:.95em;vertical-align:-.14em;margin-left:.4em;overflow:visible"><circle cx="5" cy="5" r="4.3" fill="none" stroke="currentColor" stroke-width=".8"/><path d="M5 4.4V7.4M5 2.6V3.4" stroke="currentColor" stroke-width=".9" fill="none"/></svg></div>
<div class="tl" style="left:318.9px;top:26.75px;font-size:3.4px;color:#333;font-weight:bold">Reward</div>
<div class="tl" style="left:380.3px;top:26.75px;font-size:3.4px;color:#333;font-weight:bold">Selections</div>
<div class="tl" style="left:409.8px;top:26.75px;font-size:3.4px;color:#333;font-weight:bold">Redemption Rate</div>
<svg width="471" height="199.3" viewBox="386 372.7 471 199.3"><path d="M787.8,398.2 l1.1,1.1 l1.1,-1.1" fill="none" stroke="#555" stroke-width=".4"/></svg>
<div class="abs" style="left:317.00px;top:31.30px;width:151.00px;height:0.30px;background:#d4d4d4"></div>
<div class="abs" style="left:317.00px;top:31.60px;width:151.00px;height:7.20px;background:#eeeeee"></div>
<div class="abs" style="left:317.00px;top:38.80px;width:151.00px;height:6.30px;background:#f3f4f7"></div>
<div class="abs" style="left:377.70px;top:19.30px;width:0.30px;height:33.00px;background:#ddd"></div>
<div class="abs" style="left:406.80px;top:19.30px;width:0.30px;height:78.00px;background:#e4e4e4"></div>
<div class="tl" style="left:318.9px;top:36.65px;font-size:3.7px;color:#555;">1 Year Magazine Subscription Gift</div>
<div class="abs" style="left:380.40px;top:33.30px;width:5.40px;height:5.20px;background:#3f2f17"></div>
<div class="tl" style="left:387.2px;top:36.65px;font-size:3.5px;color:#555;">54,314</div>
<div class="tl" style="left:318.9px;top:42.65px;font-size:3.7px;color:#555;">$5 off $25 Restaurant or retail</div>
<div class="abs" style="left:380.40px;top:39.30px;width:5.40px;height:5.20px;background:#3f2f17"></div>
<div class="tl" style="left:387.2px;top:42.65px;font-size:3.5px;color:#555;">54,314</div>
<div class="tl" style="left:318.9px;top:49.75px;font-size:3.7px;color:#555;">10% Booking Discount</div>
<div class="abs" style="left:380.40px;top:46.40px;width:5.40px;height:5.20px;background:#3f2f17"></div>
<div class="tl" style="left:387.2px;top:49.75px;font-size:3.5px;color:#555;">54,300</div>
<div class="abs" style="left:410.20px;top:39.50px;width:39.90px;height:5.40px;background:#8c6c3a"></div>
<div class="tl" style="left:452.0px;top:42.95px;font-size:3.5px;color:#555;">5.67%</div>
<div class="tl" style="left:412.0px;top:36.65px;font-size:2.6px;color:#bbb;">0</div>
<div class="tl" style="left:412.0px;top:49.75px;font-size:2.6px;color:#bbb;">0</div>
<div class="abs" style="left:407.10px;top:91.90px;width:60.90px;height:5.20px;background:#f1f1f1"></div>
<div class="tl" style="left:410.0px;top:95.35px;font-size:2.4px;color:#777;">&#9664;</div>
<div class="tr" style="left:465.5px;top:95.35px;font-size:2.4px;color:#777;">&#9654;</div>
<div class="card" style="left:3.7px;top:102.0px;width:229.0px;height:92.1px;"></div>
<div class="t" style="left:107.0px;top:110.05px;font-size:5.4px;color:#444;">Top Selected Rewards<svg viewBox="0 0 10 10" style="position:static;display:inline-block;width:.95em;height:.95em;vertical-align:-.14em;margin-left:.4em;overflow:visible"><circle cx="5" cy="5" r="4.3" fill="none" stroke="currentColor" stroke-width=".8"/><path d="M5 4.4V7.4M5 2.6V3.4" stroke="currentColor" stroke-width=".9" fill="none"/></svg></div>
<div class="tl" style="left:83.2px;top:118.95px;font-size:3.45px;color:#333;font-weight:bold">Selections</div>
<div class="tl" style="left:159.5px;top:118.95px;font-size:3.45px;color:#333;font-weight:bold">Reward Share</div>
<svg width="471" height="199.3" viewBox="386 372.7 471 199.3"><path d="M538,490.5 l1,1 l1,-1" fill="none" stroke="#555" stroke-width=".4"/><path d="M769.5,490.5 l1,1 l1,-1" fill="none" stroke="#555" stroke-width=".4"/></svg>
<div class="abs" style="left:4.00px;top:121.20px;width:228.50px;height:0.30px;background:#d0d0d0"></div>
<div class="abs" style="left:81.60px;top:114.30px;width:0.30px;height:76.00px;background:#e2e2e2"></div>
<div class="abs" style="left:157.70px;top:114.30px;width:0.30px;height:76.00px;background:#e2e2e2"></div>
<div class="abs" style="left:83.20px;top:122.85px;width:54.50px;height:5.30px;background:#3f2f17"></div>
<div class="abs" style="left:159.50px;top:122.85px;width:60.30px;height:5.30px;background:#3f2f17"></div>
<div class="tl" style="left:138.9px;top:126.25px;font-size:3.4px;color:#555;">2,434</div>
<div class="tl" style="left:221.0px;top:126.25px;font-size:3.4px;color:#555;">19%</div>
<div class="tl" style="left:6.8px;top:126.25px;font-size:3.65px;color:#555;">Amazon Gift Card On Us</div>
<div class="abs" style="left:4.00px;top:128.73px;width:228.50px;height:6.46px;background:#f0f0f0"></div>
<div class="abs" style="left:83.20px;top:129.31px;width:36.30px;height:5.30px;background:#584221"></div>
<div class="abs" style="left:159.50px;top:129.31px;width:40.00px;height:5.30px;background:#584221"></div>
<div class="tl" style="left:120.7px;top:132.71px;font-size:3.4px;color:#555;">1,518</div>
<div class="tl" style="left:200.7px;top:132.71px;font-size:3.4px;color:#555;">12%</div>
<div class="tl" style="left:6.8px;top:132.71px;font-size:3.65px;color:#555;">10% Off Select Guided Tours</div>
<div class="abs" style="left:83.20px;top:135.77px;width:24.40px;height:5.30px;background:#684f28"></div>
<div class="abs" style="left:159.50px;top:135.77px;width:27.10px;height:5.30px;background:#684f28"></div>
<div class="tl" style="left:108.8px;top:139.17px;font-size:3.4px;color:#555;">1,099</div>
<div class="tl" style="left:187.8px;top:139.17px;font-size:3.4px;color:#555;">8%</div>
<div class="tl" style="left:6.8px;top:139.17px;font-size:3.65px;color:#555;">Sephora Gift Card On Us</div>
<div class="abs" style="left:4.00px;top:141.65px;width:228.50px;height:6.46px;background:#f0f0f0"></div>
<div class="abs" style="left:83.20px;top:142.23px;width:23.00px;height:5.30px;background:#6e542a"></div>
<div class="abs" style="left:159.50px;top:142.23px;width:25.40px;height:5.30px;background:#6e542a"></div>
<div class="tl" style="left:107.4px;top:145.63px;font-size:3.4px;color:#555;">1,054</div>
<div class="tl" style="left:186.1px;top:145.63px;font-size:3.4px;color:#555;">8%</div>
<div class="tl" style="left:6.8px;top:145.63px;font-size:3.65px;color:#555;">Complimentary Bodega Wifi</div>
<div class="abs" style="left:83.20px;top:148.69px;width:13.80px;height:5.30px;background:#7b5e30"></div>
<div class="abs" style="left:159.50px;top:148.69px;width:15.00px;height:5.30px;background:#7b5e30"></div>
<div class="tl" style="left:98.2px;top:152.09px;font-size:3.4px;color:#555;">625</div>
<div class="tl" style="left:175.7px;top:152.09px;font-size:3.4px;color:#555;">5%</div>
<div class="tl" style="left:6.8px;top:152.09px;font-size:3.65px;color:#555;">Extra 20 min on Massage Purchase</div>
<div class="abs" style="left:4.00px;top:154.57px;width:228.50px;height:6.46px;background:#f0f0f0"></div>
<div class="abs" style="left:83.20px;top:155.15px;width:11.40px;height:5.30px;background:#816332"></div>
<div class="abs" style="left:159.50px;top:155.15px;width:12.60px;height:5.30px;background:#816332"></div>
<div class="tl" style="left:95.8px;top:158.55px;font-size:3.4px;color:#555;">523</div>
<div class="tl" style="left:173.3px;top:158.55px;font-size:3.4px;color:#555;">4%</div>
<div class="tl" style="left:6.8px;top:158.55px;font-size:3.65px;color:#555;">Complimentary Beauty Gift Box</div>
<div class="abs" style="left:83.20px;top:161.61px;width:10.90px;height:5.30px;background:#846534"></div>
<div class="abs" style="left:159.50px;top:161.61px;width:11.60px;height:5.30px;background:#846534"></div>
<div class="tl" style="left:95.3px;top:165.01px;font-size:3.4px;color:#555;">507</div>
<div class="tl" style="left:172.3px;top:165.01px;font-size:3.4px;color:#555;">4%</div>
<div class="tl" style="left:6.8px;top:165.01px;font-size:3.65px;color:#555;">Free Uber Gift Card On Us</div>
<div class="abs" style="left:4.00px;top:167.49px;width:228.50px;height:6.46px;background:#f0f0f0"></div>
<div class="abs" style="left:83.20px;top:168.07px;width:10.40px;height:5.30px;background:#866734"></div>
<div class="abs" style="left:159.50px;top:168.07px;width:10.90px;height:5.30px;background:#866734"></div>
<div class="tl" style="left:94.8px;top:171.47px;font-size:3.4px;color:#555;">493</div>
<div class="tl" style="left:171.6px;top:171.47px;font-size:3.4px;color:#555;">4%</div>
<div class="tl" style="left:6.8px;top:171.47px;font-size:3.65px;color:#555;">Complimentary Starbucks Coffee</div>
<div class="abs" style="left:83.20px;top:174.53px;width:10.10px;height:5.30px;background:#886935"></div>
<div class="abs" style="left:159.50px;top:174.53px;width:10.40px;height:5.30px;background:#886935"></div>
<div class="tl" style="left:94.5px;top:177.93px;font-size:3.4px;color:#555;">474</div>
<div class="tl" style="left:171.1px;top:177.93px;font-size:3.4px;color:#555;">4%</div>
<div class="tl" style="left:6.8px;top:177.93px;font-size:3.65px;color:#555;">Free Add-On With Spa Purchase</div>
<div class="abs" style="left:4.00px;top:180.41px;width:228.50px;height:6.46px;background:#f0f0f0"></div>
<div class="abs" style="left:83.20px;top:180.99px;width:8.90px;height:5.30px;background:#8a6a36"></div>
<div class="abs" style="left:159.50px;top:180.99px;width:9.40px;height:5.30px;background:#8a6a36"></div>
<div class="tl" style="left:93.3px;top:184.39px;font-size:3.4px;color:#555;">396</div>
<div class="tl" style="left:170.1px;top:184.39px;font-size:3.4px;color:#555;">3%</div>
<div class="tl" style="left:6.8px;top:184.39px;font-size:3.65px;color:#555;">Free Uber Gift Card On Us</div>
<div class="abs" style="left:4.00px;top:187.70px;width:228.50px;height:5.40px;background:#f4f4f4"></div>
<div class="tl" style="left:6.5px;top:191.15px;font-size:2.4px;color:#777;">&#9664;</div>
<div class="tr" style="left:230.0px;top:191.15px;font-size:2.4px;color:#777;">&#9654;</div>
<div class="card" style="left:237.3px;top:102.0px;width:229.0px;height:92.1px;"></div>
<div class="t" style="left:341.5px;top:110.05px;font-size:5.5px;color:#444;">Reward Redemption<svg viewBox="0 0 10 10" style="position:static;display:inline-block;width:.95em;height:.95em;vertical-align:-.14em;margin-left:.4em;overflow:visible"><circle cx="5" cy="5" r="4.3" fill="none" stroke="currentColor" stroke-width=".8"/><path d="M5 4.4V7.4M5 2.6V3.4" stroke="currentColor" stroke-width=".9" fill="none"/></svg></div>
<div class="tl" style="left:239.8px;top:118.95px;font-size:3.45px;color:#333;font-weight:bold">Reward</div>
<div class="tl" style="left:315.6px;top:118.95px;font-size:3.45px;color:#333;font-weight:bold">Sent Rewards</div>
<div class="tl" style="left:391.7px;top:118.95px;font-size:3.45px;color:#333;font-weight:bold">Redemption Rate</div>
<div class="abs" style="left:237.60px;top:121.20px;width:228.40px;height:0.30px;background:#d0d0d0"></div>
<div class="abs" style="left:313.60px;top:114.30px;width:0.30px;height:76.00px;background:#e2e2e2"></div>
<div class="abs" style="left:389.90px;top:114.30px;width:0.30px;height:76.00px;background:#e2e2e2"></div>
<div class="abs" style="left:315.80px;top:122.85px;width:54.80px;height:5.30px;background:#3f2f17"></div>
<div class="tl" style="left:371.8px;top:126.25px;font-size:3.4px;color:#555;">1,134</div>
<div class="tl" style="left:239.8px;top:126.25px;font-size:3.65px;color:#555;">Amazon Gift Card On Us</div>
<div class="tl" style="left:394.0px;top:126.25px;font-size:2.5px;color:#c4c4c4;">0</div>
<div class="abs" style="left:237.60px;top:128.73px;width:228.40px;height:6.46px;background:#f0f0f0"></div>
<div class="abs" style="left:315.80px;top:129.31px;width:44.60px;height:5.30px;background:#584221"></div>
<div class="tl" style="left:361.6px;top:132.71px;font-size:3.4px;color:#555;">924</div>
<div class="tl" style="left:239.8px;top:132.71px;font-size:3.65px;color:#555;">10% Off Select Guided Tours</div>
<div class="abs" style="left:391.90px;top:129.31px;width:10.20px;height:5.30px;background:#8c6c3a"></div>
<div class="tl" style="left:403.3px;top:132.71px;font-size:3.4px;color:#555;">1.95%</div>
<div class="abs" style="left:315.80px;top:135.77px;width:29.80px;height:5.30px;background:#684f28"></div>
<div class="tl" style="left:346.8px;top:139.17px;font-size:3.4px;color:#555;">619</div>
<div class="tl" style="left:239.8px;top:139.17px;font-size:3.65px;color:#555;">Sephora Gift Card On Us</div>
<div class="tl" style="left:394.0px;top:139.17px;font-size:2.5px;color:#c4c4c4;">0</div>
<div class="abs" style="left:237.60px;top:141.65px;width:228.40px;height:6.46px;background:#f0f0f0"></div>
<div class="abs" style="left:315.80px;top:142.23px;width:25.50px;height:5.30px;background:#6e542a"></div>
<div class="tl" style="left:342.5px;top:145.63px;font-size:3.4px;color:#555;">534</div>
<div class="tl" style="left:239.8px;top:145.63px;font-size:3.65px;color:#555;">Complimentary Bodega Wifi</div>
<div class="tl" style="left:394.0px;top:145.63px;font-size:2.5px;color:#c4c4c4;">0</div>
<div class="abs" style="left:315.80px;top:148.69px;width:19.20px;height:5.30px;background:#7b5e30"></div>
<div class="tl" style="left:336.2px;top:152.09px;font-size:3.4px;color:#555;">400</div>
<div class="tl" style="left:239.8px;top:152.09px;font-size:3.65px;color:#555;">Extra 20 min on Massage Purchase</div>
<div class="abs" style="left:391.90px;top:148.69px;width:3.70px;height:5.30px;background:#8c6c3a"></div>
<div class="tl" style="left:396.8px;top:152.09px;font-size:3.4px;color:#555;">0.75%</div>
<div class="abs" style="left:237.60px;top:154.57px;width:228.40px;height:6.46px;background:#f0f0f0"></div>
<div class="abs" style="left:315.80px;top:155.15px;width:14.80px;height:5.30px;background:#816332"></div>
<div class="tl" style="left:331.8px;top:158.55px;font-size:3.4px;color:#555;">315</div>
<div class="tl" style="left:239.8px;top:158.55px;font-size:3.65px;color:#555;">Complimentary Beauty Gift Box</div>
<div class="tl" style="left:394.0px;top:158.55px;font-size:2.5px;color:#c4c4c4;">0</div>
<div class="abs" style="left:315.80px;top:161.61px;width:13.60px;height:5.30px;background:#846534"></div>
<div class="tl" style="left:330.6px;top:165.01px;font-size:3.4px;color:#555;">293</div>
<div class="tl" style="left:239.8px;top:165.01px;font-size:3.65px;color:#555;">Free Add-On With Spa Purchase</div>
<div class="abs" style="left:391.90px;top:161.61px;width:5.30px;height:5.30px;background:#8c6c3a"></div>
<div class="tl" style="left:398.4px;top:165.01px;font-size:3.4px;color:#555;">1.36%</div>
<div class="abs" style="left:237.60px;top:167.49px;width:228.40px;height:6.46px;background:#f0f0f0"></div>
<div class="abs" style="left:315.80px;top:168.07px;width:10.50px;height:5.30px;background:#866734"></div>
<div class="tl" style="left:327.5px;top:171.47px;font-size:3.4px;color:#555;">229</div>
<div class="tl" style="left:239.8px;top:171.47px;font-size:3.65px;color:#555;">Free add-on with your Spa purchase</div>
<div class="abs" style="left:391.90px;top:168.07px;width:6.80px;height:5.30px;background:#8c6c3a"></div>
<div class="tl" style="left:399.9px;top:171.47px;font-size:3.4px;color:#555;">1.30%</div>
<div class="abs" style="left:315.80px;top:174.53px;width:10.20px;height:5.30px;background:#886935"></div>
<div class="tl" style="left:327.2px;top:177.93px;font-size:3.4px;color:#555;">219</div>
<div class="tl" style="left:239.8px;top:177.93px;font-size:3.65px;color:#555;">Free Uber Gift Card On Us</div>
<div class="tl" style="left:394.0px;top:177.93px;font-size:2.5px;color:#c4c4c4;">0</div>
<div class="abs" style="left:237.60px;top:180.41px;width:228.40px;height:6.46px;background:#f0f0f0"></div>
<div class="abs" style="left:315.80px;top:180.99px;width:10.00px;height:5.30px;background:#8a6a36"></div>
<div class="tl" style="left:327.0px;top:184.39px;font-size:3.4px;color:#555;">218</div>
<div class="tl" style="left:239.8px;top:184.39px;font-size:3.65px;color:#555;">Uber Credit On Us</div>
<div class="tl" style="left:394.0px;top:184.39px;font-size:2.5px;color:#c4c4c4;">0</div>
<div class="abs" style="left:237.60px;top:187.70px;width:228.40px;height:5.40px;background:#f4f4f4"></div>
<div class="tl" style="left:240.0px;top:191.15px;font-size:2.4px;color:#777;">&#9664;</div>
<div class="tr" style="left:463.5px;top:191.15px;font-size:2.4px;color:#777;">&#9654;</div>
</div>
<div class="panel" style="left:120px;top:279px;width:302.5px;height:261.5px;z-index:40">
<div class="card" style="left:4.5px;top:4.5px;width:94.5px;height:69.5px;"></div>
<div class="t" style="left:48.8px;top:37.35px;font-size:11.8px;color:#2f2f2f;">965,295</div>
<div class="t" style="left:51.5px;top:49.75px;font-size:4.6px;color:#b8b8b8;">Total Enrollments <svg viewBox="0 0 10 10" style="position:static;display:inline-block;width:.95em;height:.95em;vertical-align:-.14em;margin-left:.3em;overflow:visible"><circle cx="5" cy="5" r="4.3" fill="none" stroke="currentColor" stroke-width=".8"/><path d="M5 4.4V7.4M5 2.6V3.4" stroke="currentColor" stroke-width=".9" fill="none"/></svg></div>
<div class="card" style="left:102.7px;top:4.5px;width:192.8px;height:69.5px;"></div>
<div class="t" style="left:190.5px;top:12.55px;font-size:5.0px;color:#444;">New Enrollments by Week <svg viewBox="0 0 10 10" style="position:static;display:inline-block;width:.95em;height:.95em;vertical-align:-.14em;margin-left:.3em;overflow:visible"><circle cx="5" cy="5" r="4.3" fill="none" stroke="currentColor" stroke-width=".8"/><path d="M5 4.4V7.4M5 2.6V3.4" stroke="currentColor" stroke-width=".9" fill="none"/></svg></div>
<div class="abs" style="left:120.30px;top:34.00px;width:22.00px;height:29.70px;background:#bca98a"></div>
<div class="abs" style="left:145.40px;top:30.20px;width:21.50px;height:33.50px;background:#bca98a"></div>
<div class="abs" style="left:170.00px;top:32.90px;width:21.50px;height:30.80px;background:#bca98a"></div>
<div class="abs" style="left:194.20px;top:21.00px;width:21.90px;height:42.70px;background:#bca98a"></div>
<div class="abs" style="left:218.80px;top:30.20px;width:21.90px;height:33.50px;background:#bca98a"></div>
<div class="abs" style="left:243.40px;top:29.20px;width:21.50px;height:34.50px;background:#bca98a"></div>
<div class="abs" style="left:268.00px;top:40.10px;width:22.00px;height:23.60px;background:#bca98a"></div>
<div class="t" style="left:131.0px;top:69.05px;font-size:3.3px;color:#666;">Feb 28</div>
<div class="t" style="left:156.0px;top:69.05px;font-size:3.3px;color:#666;">Mar 7</div>
<div class="t" style="left:181.0px;top:69.05px;font-size:3.3px;color:#666;">Mar 14</div>
<div class="t" style="left:205.0px;top:69.05px;font-size:3.3px;color:#666;">Mar 21</div>
<div class="t" style="left:230.0px;top:69.05px;font-size:3.3px;color:#666;">Mar 28</div>
<div class="t" style="left:254.0px;top:69.05px;font-size:3.3px;color:#666;">Apr 4</div>
<div class="t" style="left:279.0px;top:69.05px;font-size:3.3px;color:#666;">Apr 11</div>
<div class="tr" style="left:114.5px;top:21.75px;font-size:3.2px;color:#777;">3,000</div>
<div class="tr" style="left:114.5px;top:35.95px;font-size:3.2px;color:#777;">2,000</div>
<div class="tr" style="left:114.5px;top:50.25px;font-size:3.2px;color:#777;">1,000</div>
<div class="tr" style="left:114.5px;top:64.25px;font-size:3.2px;color:#777;">0</div>
<div class="card" style="left:3.5px;top:83.0px;width:95.5px;height:84.0px;"></div>
<div class="t" style="left:47.5px;top:90.75px;font-size:5px;color:#444;">Loyalty Bookings</div>
<div class="t" style="left:91.5px;top:91.25px;font-size:4px;color:#999;">&#8942;</div>
<svg width="302.5" height="261.5" viewBox="120 279 302.5 261.5"><path d="M141.3,412.6 C143.1,412.3 148.5,411.4 152.0,410.8 C155.5,410.2 158.5,409.8 162.2,408.8 C165.9,407.8 169.9,407.1 174.1,405.0 C178.3,402.9 183.3,399.1 187.5,396.3 C191.7,393.5 194.9,391.2 199.5,388.2 C204.1,385.2 212.4,379.9 215.0,378.3 L215.0,435.6 L141.3,435.6 Z" fill="#e5dfd1"/><path d="M141.3,412.6 C143.1,412.3 148.5,411.4 152.0,410.8 C155.5,410.2 158.5,409.8 162.2,408.8 C165.9,407.8 169.9,407.1 174.1,405.0 C178.3,402.9 183.3,399.1 187.5,396.3 C191.7,393.5 194.9,391.2 199.5,388.2 C204.1,385.2 212.4,379.9 215.0,378.3" fill="none" stroke="#bca98a" stroke-width=".7"/></svg>
<div class="tr" style="left:17.0px;top:101.55px;font-size:3.1px;color:#777;">30,000</div>
<div class="tr" style="left:17.0px;top:119.75px;font-size:3.1px;color:#777;">20,000</div>
<div class="tr" style="left:17.0px;top:138.95px;font-size:3.1px;color:#777;">10,000</div>
<div class="tr" style="left:17.0px;top:157.35px;font-size:3.1px;color:#777;">0</div>
<div class="t" style="left:46.0px;top:161.55px;font-size:3.2px;color:#666;">January '22</div>
<div class="t" style="left:73.0px;top:161.55px;font-size:3.2px;color:#666;">March</div>
<div class="card" style="left:102.7px;top:83.0px;width:193.0px;height:84.0px;"></div>
<div class="t" style="left:199.0px;top:90.75px;font-size:5.1px;color:#444;">Loyalty Bookings by Week</div>
<div class="abs" style="left:120.30px;top:115.10px;width:21.80px;height:41.50px;background:#bca98a"></div>
<div class="abs" style="left:145.10px;top:106.20px;width:21.80px;height:50.40px;background:#bca98a"></div>
<div class="abs" style="left:169.80px;top:110.10px;width:21.80px;height:46.50px;background:#bca98a"></div>
<div class="abs" style="left:194.30px;top:111.30px;width:21.80px;height:45.30px;background:#bca98a"></div>
<div class="abs" style="left:219.00px;top:107.70px;width:21.80px;height:48.90px;background:#bca98a"></div>
<div class="abs" style="left:243.50px;top:99.30px;width:21.80px;height:57.30px;background:#bca98a"></div>
<div class="abs" style="left:268.30px;top:110.40px;width:21.70px;height:46.20px;background:#bca98a"></div>
<div class="t" style="left:131.0px;top:161.75px;font-size:3.3px;color:#666;">Feb 28</div>
<div class="t" style="left:156.0px;top:161.75px;font-size:3.3px;color:#666;">Mar 7</div>
<div class="t" style="left:181.0px;top:161.75px;font-size:3.3px;color:#666;">Mar 14</div>
<div class="t" style="left:205.0px;top:161.75px;font-size:3.3px;color:#666;">Mar 21</div>
<div class="t" style="left:230.0px;top:161.75px;font-size:3.3px;color:#666;">Mar 28</div>
<div class="t" style="left:254.0px;top:161.75px;font-size:3.3px;color:#666;">Apr 4</div>
<div class="t" style="left:279.0px;top:161.75px;font-size:3.3px;color:#666;">Apr 11</div>
<div class="tr" style="left:114.0px;top:116.05px;font-size:3.2px;color:#777;">1,000</div>
<div class="tr" style="left:114.0px;top:136.75px;font-size:3.2px;color:#777;">500</div>
<div class="tr" style="left:114.0px;top:157.35px;font-size:3.2px;color:#777;">0</div>
<div class="card" style="left:3.5px;top:171.4px;width:95.5px;height:84.4px;"></div>
<div class="t" style="left:51.0px;top:178.75px;font-size:5px;color:#444;">Loyalty Booking Revenue</div>
<svg width="302.5" height="261.5" viewBox="120 279 302.5 261.5"><path d="M149.4,503.2 C151.2,502.9 156.6,502.1 160.0,501.5 C163.4,500.9 166.5,500.6 169.6,499.6 C172.7,498.7 175.4,497.8 178.6,495.8 C181.8,493.8 185.5,490.4 189.0,487.7 C192.5,485.0 195.2,483.0 199.5,479.4 C203.8,475.8 212.4,468.2 215.0,466.0 L215.0,523.5 L149.4,523.5 Z" fill="#e5dfd1"/><path d="M149.4,503.2 C151.2,502.9 156.6,502.1 160.0,501.5 C163.4,500.9 166.5,500.6 169.6,499.6 C172.7,498.7 175.4,497.8 178.6,495.8 C181.8,493.8 185.5,490.4 189.0,487.7 C192.5,485.0 195.2,483.0 199.5,479.4 C203.8,475.8 212.4,468.2 215.0,466.0" fill="none" stroke="#bca98a" stroke-width=".7"/></svg>
<div class="tr" style="left:25.0px;top:202.05px;font-size:3.1px;color:#777;">$20,000,000</div>
<div class="tr" style="left:25.0px;top:224.05px;font-size:3.1px;color:#777;">$10,000,000</div>
<div class="tr" style="left:25.0px;top:245.25px;font-size:3.1px;color:#777;">$0</div>
<div class="t" style="left:50.5px;top:249.55px;font-size:3.2px;color:#666;">January '22</div>
<div class="t" style="left:75.0px;top:249.55px;font-size:3.2px;color:#666;">March</div>
<div class="card" style="left:102.7px;top:171.4px;width:193.0px;height:84.4px;"></div>
<div class="t" style="left:199.0px;top:178.75px;font-size:5.1px;color:#444;">Loyalty Booking Revenue by Week</div>
<div class="abs" style="left:128.10px;top:202.80px;width:21.50px;height:41.70px;background:#bca98a"></div>
<div class="abs" style="left:152.00px;top:196.20px;width:20.80px;height:48.30px;background:#bca98a"></div>
<div class="abs" style="left:175.50px;top:198.30px;width:20.90px;height:46.20px;background:#bca98a"></div>
<div class="abs" style="left:199.10px;top:198.00px;width:20.90px;height:46.50px;background:#bca98a"></div>
<div class="abs" style="left:222.60px;top:193.50px;width:20.90px;height:51.00px;background:#bca98a"></div>
<div class="abs" style="left:245.90px;top:187.20px;width:20.90px;height:57.30px;background:#bca98a"></div>
<div class="abs" style="left:269.50px;top:198.30px;width:21.10px;height:46.20px;background:#bca98a"></div>
<div class="t" style="left:139.0px;top:249.75px;font-size:3.3px;color:#666;">Feb 28</div>
<div class="t" style="left:162.5px;top:249.75px;font-size:3.3px;color:#666;">Mar 7</div>
<div class="t" style="left:186.0px;top:249.75px;font-size:3.3px;color:#666;">Mar 14</div>
<div class="t" style="left:209.5px;top:249.75px;font-size:3.3px;color:#666;">Mar 21</div>
<div class="t" style="left:233.0px;top:249.75px;font-size:3.3px;color:#666;">Mar 28</div>
<div class="t" style="left:256.5px;top:249.75px;font-size:3.3px;color:#666;">Apr 4</div>
<div class="t" style="left:280.0px;top:249.75px;font-size:3.3px;color:#666;">Apr 11</div>
<div class="tr" style="left:123.0px;top:204.45px;font-size:3.1px;color:#777;">$1,000,000</div>
<div class="tr" style="left:123.0px;top:224.75px;font-size:3.1px;color:#777;">$500,000</div>
<div class="tr" style="left:123.0px;top:245.25px;font-size:3.1px;color:#777;">$0</div>
</div>
</body></html>
